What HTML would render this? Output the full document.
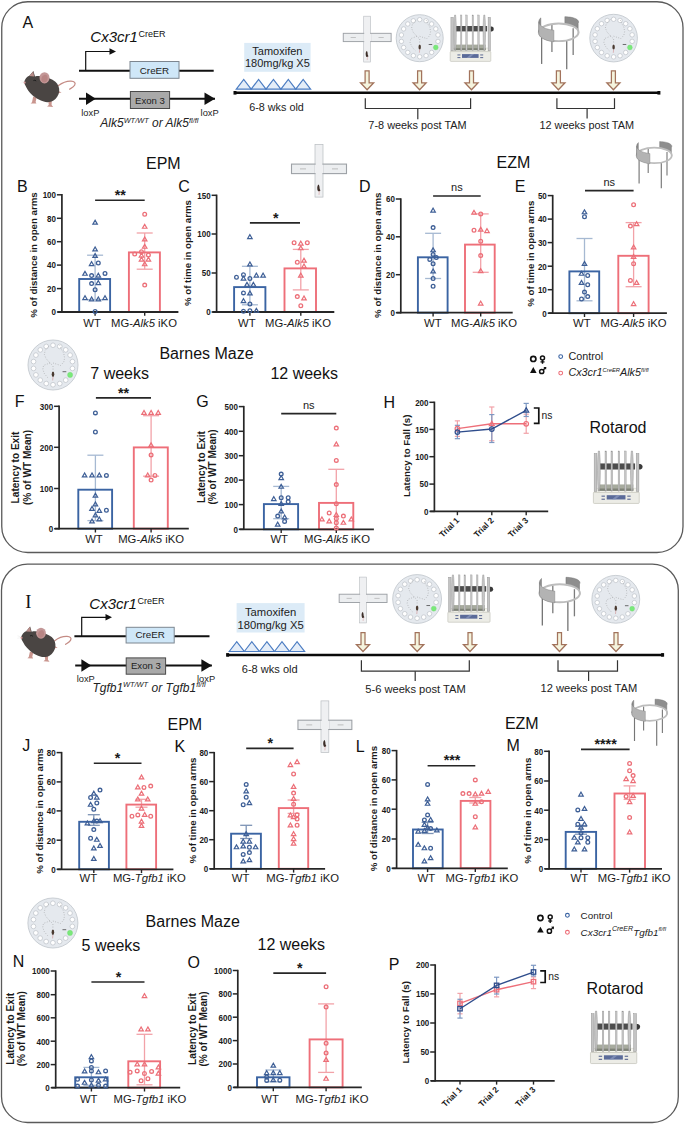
<!DOCTYPE html><html><head><meta charset="utf-8"><style>html,body{margin:0;padding:0;background:#fff;}svg{display:block;}text{font-family:"Liberation Sans",sans-serif;}</style></head><body>
<svg width="685" height="1124" viewBox="0 0 685 1124">
<rect width="685" height="1124" fill="#ffffff"/>
<rect x="1.75" y="1.75" width="681.25" height="550.75" rx="26" ry="26" fill="none" stroke="#5a5a5a" stroke-width="1.3"/>
<rect x="1.5" y="564.2" width="676.8" height="558.3" rx="26" ry="26" fill="none" stroke="#5a5a5a" stroke-width="1.3"/>
<text x="22.6" y="28.2" font-size="16" text-anchor="start" font-weight="normal" font-style="normal" fill="#111" >A</text>
<g transform="translate(0,0) scale(1)">
<path d="M58.5,85.6 C62,83 67,81 71,81.2 C74.5,81.4 76,82.8 74.6,85.2 C73.4,87.2 71.2,88.2 69.6,89.2" fill="none" stroke="#c48b84" stroke-width="1.25" stroke-linecap="round"/>
<path d="M33.2,96.5 L32.0,102.2 L30.6,103.4 L36.4,103.6 L35.6,102.0 L36.6,97.5 z" fill="#c9958e"/>
<path d="M48.2,100.5 L48.8,105.0 L47.0,106.6 L53.2,106.9 L51.6,105.0 L51.8,100.0 z" fill="#c9958e"/>
<path d="M57.5,90.5 L61.5,92.6 L57.5,93.4 z" fill="#c9958e"/>
<path d="M24.1,82.3 C24.8,79.2 27.0,76.6 29.6,75.6 L33.4,70.9 L35.0,76.4 C37.5,75.6 40.5,75.8 42.5,76.6 C46.5,77.2 52.0,79.0 55.4,81.8 C58.2,84.3 59.6,88.0 59.2,91.4 C58.8,95.2 56.2,98.8 53.5,100.6 C50.8,102.2 46.8,102.6 43.8,101.6 C40.8,100.6 37.8,99.4 35.4,97.6 C31.8,95.0 28.0,91.0 26.4,87.4 C25.4,85.6 24.4,84.0 24.1,82.3 z" fill="#4a4543"/>
<path d="M29.2,76.0 L33.2,71.4 L34.2,76.4 z" fill="#b98c88"/>
<ellipse cx="44.5" cy="77.8" rx="5.0" ry="5.6" fill="#c39797"/>
<path d="M41.5,80.5 C41.0,77.0 43.0,74.5 46.0,74.8 C47.8,75.5 48.2,78.5 47.0,81.0 C45.5,83.0 42.5,83.0 41.5,80.5 z" fill="#b88584"/>
<circle cx="24.6" cy="82.6" r="1.1" fill="#d69c9c"/>
<path d="M33.4,80.6 q1.6,-1.0 2.8,0.4" stroke="#1e1e1e" stroke-width="1.0" fill="none"/>
<path d="M23.5,81.5 l-3,-1 M23.5,82.5 l-3,0.5" stroke="#d8d8d8" stroke-width="0.3"/>
</g>
<text x="90.3" y="41.8" font-size="15" font-style="italic" fill="#111">Cx3cr1<tspan font-size="9" font-style="normal" dy="-5.2" dx="0.6">CreER</tspan></text>
<path d="M85.7,70.7 V51.5 H110.5" fill="none" stroke="#111" stroke-width="1.2"/>
<polygon points="109.5,48.3 116,51.5 109.5,54.7" fill="#111"/>
<line x1="79" y1="70.7" x2="213.7" y2="70.7" stroke="#111" stroke-width="1.9" />
<rect x="130" y="61.5" width="49" height="16.8" fill="#cfe7f8" stroke="#7d8690" stroke-width="1"/>
<text x="154.5" y="73.7" font-size="9.8" text-anchor="middle" font-weight="normal" font-style="normal" fill="#222" >CreER</text>
<line x1="79" y1="98.8" x2="215" y2="98.8" stroke="#111" stroke-width="1.9" />
<polygon points="86,92.6 95.8,98.8 86,105" fill="#111"/>
<polygon points="204.5,92.6 215,98.8 204.5,105" fill="#111"/>
<rect x="130.4" y="91.5" width="39.2" height="17" fill="#a9a9a9" stroke="#4a4a4a" stroke-width="1"/>
<text x="150" y="103.7" font-size="9.6" text-anchor="middle" font-weight="normal" font-style="normal" fill="#222" >Exon 3</text>
<text x="81.3" y="115.5" font-size="9.3" text-anchor="start" font-weight="normal" font-style="normal" fill="#222" >loxP</text>
<text x="200.6" y="115.5" font-size="9.3" text-anchor="start" font-weight="normal" font-style="normal" fill="#222" >loxP</text>
<text x="100.3" y="127.3" font-size="12" font-style="italic" fill="#222">Alk5<tspan font-size="7.4" dy="-4.6">WT/WT</tspan><tspan dy="4.6"> or Alk5</tspan><tspan font-size="7.4" dy="-4.6">fl/fl</tspan></text>
<rect x="244.2" y="42.9" width="66.4" height="28.9" fill="#dcebf7"/>
<text x="277.4" y="54.7" font-size="11" text-anchor="middle" font-weight="normal" font-style="normal" fill="#222" >Tamoxifen</text>
<text x="277.4" y="67.3" font-size="11" text-anchor="middle" font-weight="normal" font-style="normal" fill="#222" >180mg/kg X5</text>
<polygon points="236.3,89.1 243.73,79.4 251.16,89.1" fill="#e4edf8" stroke="#4b7cc2" stroke-width="1.2" stroke-linejoin="miter"/>
<polygon points="251.16,89.1 258.59,79.4 266.02,89.1" fill="#e4edf8" stroke="#4b7cc2" stroke-width="1.2" stroke-linejoin="miter"/>
<polygon points="266.02,89.1 273.45,79.4 280.88,89.1" fill="#e4edf8" stroke="#4b7cc2" stroke-width="1.2" stroke-linejoin="miter"/>
<polygon points="280.88,89.1 288.31,79.4 295.74,89.1" fill="#e4edf8" stroke="#4b7cc2" stroke-width="1.2" stroke-linejoin="miter"/>
<polygon points="295.74,89.1 303.17,79.4 310.6,89.1" fill="#e4edf8" stroke="#4b7cc2" stroke-width="1.2" stroke-linejoin="miter"/>
<line x1="234.5" y1="92.8" x2="659.4" y2="92.8" stroke="#0a0a0a" stroke-width="2.5" />
<rect x="233.5" y="91" width="3" height="3.6" fill="#0a0a0a"/>
<rect x="657.4" y="91" width="3" height="3.6" fill="#0a0a0a"/>
<text x="249.2" y="110.6" font-size="10.8" text-anchor="start" font-weight="normal" font-style="normal" fill="#222" >6-8 wks old</text>
<path d="M365.1,70.8 H369.1 V82.8 H373.7 L367.1,89.8 L360.5,82.8 H365.1 Z" fill="#f5f4de" stroke="#a2735c" stroke-width="1.25" stroke-linejoin="miter"/>
<path d="M417.6,70.8 H421.6 V82.8 H426.2 L419.6,89.8 L413,82.8 H417.6 Z" fill="#f5f4de" stroke="#a2735c" stroke-width="1.25" stroke-linejoin="miter"/>
<path d="M469.5,70.8 H473.5 V82.8 H478.1 L471.5,89.8 L464.9,82.8 H469.5 Z" fill="#f5f4de" stroke="#a2735c" stroke-width="1.25" stroke-linejoin="miter"/>
<path d="M556.4,70.8 H560.4 V82.8 H565 L558.4,89.8 L551.8,82.8 H556.4 Z" fill="#f5f4de" stroke="#a2735c" stroke-width="1.25" stroke-linejoin="miter"/>
<path d="M611.4,70.8 H615.4 V82.8 H620 L613.4,89.8 L606.8,82.8 H611.4 Z" fill="#f5f4de" stroke="#a2735c" stroke-width="1.25" stroke-linejoin="miter"/>
<path d="M365.3,98.3 V108.5 H470.6 V98.3" fill="none" stroke="#333" stroke-width="1.2"/>
<line x1="417.8" y1="108.5" x2="417.8" y2="119.3" stroke="#333" stroke-width="1.2" />
<text x="417.5" y="129.2" font-size="10.9" text-anchor="middle" font-weight="normal" font-style="normal" fill="#222" >7-8 weeks post TAM</text>
<path d="M556.9,98.3 V108.5 H614.5 V98.3" fill="none" stroke="#333" stroke-width="1.2"/>
<line x1="587.1" y1="108.5" x2="587.1" y2="118.5" stroke="#333" stroke-width="1.2" />
<text x="586.7" y="129.2" font-size="10.9" text-anchor="middle" font-weight="normal" font-style="normal" fill="#222" >12 weeks post TAM</text>
<g transform="translate(367.2,37.5) scale(0.87)">
<rect x="-4" y="-24.5" width="8" height="52.7" fill="#eff0f2" stroke="#b8bcc0" stroke-width="0.7"/>
<rect x="-27.5" y="-4.8" width="23.5" height="9.5" fill="#eceef0" stroke="#9da1a6" stroke-width="1.1"/>
<rect x="4" y="-4.8" width="23.5" height="9.5" fill="#eceef0" stroke="#9da1a6" stroke-width="1.1"/>
<rect x="-4.6" y="-4.2" width="9.2" height="8.4" fill="#eff0f2"/>
<line x1="-19" y1="0" x2="-13" y2="0" stroke="#9a9a9a" stroke-width="0.6" />
<line x1="13" y1="0" x2="19" y2="0" stroke="#9a9a9a" stroke-width="0.6" />
<path d="M-0.6,15.5 c-1.4,1.2 -1.5,4.6 -0.5,6.6 c0.9,0.7 2.3,0.3 2.5,-0.7 c-0.6,-1.1 -0.9,-1.7 -0.9,-3.3 c-0.2,-1.7 -0.6,-2.6 -1.1,-2.6 z" fill="#3d2e28"/>
<line x1="0.3" y1="22" x2="0" y2="26" stroke="#c87070" stroke-width="0.4" />
</g>
<g>
<circle cx="419.7" cy="38.2" r="23.5" stroke="#c4c9cf" fill="#e5e9ee" stroke-width="0.9"/>
<circle cx="419.7" cy="56.77" r="2.2" stroke="#aeb4bb" fill="#ffffff" stroke-width="0.55"/>
<circle cx="426.05" cy="55.65" r="2.2" stroke="#aeb4bb" fill="#ffffff" stroke-width="0.55"/>
<circle cx="431.63" cy="52.42" r="2.2" stroke="#aeb4bb" fill="#ffffff" stroke-width="0.55"/>
<circle cx="437.98" cy="41.42" r="2.2" stroke="#aeb4bb" fill="#ffffff" stroke-width="0.55"/>
<circle cx="437.98" cy="34.98" r="2.2" stroke="#aeb4bb" fill="#ffffff" stroke-width="0.55"/>
<circle cx="435.78" cy="28.92" r="2.2" stroke="#aeb4bb" fill="#ffffff" stroke-width="0.55"/>
<circle cx="431.63" cy="23.98" r="2.2" stroke="#aeb4bb" fill="#ffffff" stroke-width="0.55"/>
<circle cx="426.05" cy="20.75" r="2.2" stroke="#aeb4bb" fill="#ffffff" stroke-width="0.55"/>
<circle cx="419.7" cy="19.64" r="2.2" stroke="#aeb4bb" fill="#ffffff" stroke-width="0.55"/>
<circle cx="413.35" cy="20.75" r="2.2" stroke="#aeb4bb" fill="#ffffff" stroke-width="0.55"/>
<circle cx="407.77" cy="23.98" r="2.2" stroke="#aeb4bb" fill="#ffffff" stroke-width="0.55"/>
<circle cx="403.62" cy="28.92" r="2.2" stroke="#aeb4bb" fill="#ffffff" stroke-width="0.55"/>
<circle cx="401.42" cy="34.98" r="2.2" stroke="#aeb4bb" fill="#ffffff" stroke-width="0.55"/>
<circle cx="401.42" cy="41.42" r="2.2" stroke="#aeb4bb" fill="#ffffff" stroke-width="0.55"/>
<circle cx="403.62" cy="47.48" r="2.2" stroke="#aeb4bb" fill="#ffffff" stroke-width="0.55"/>
<circle cx="407.77" cy="52.42" r="2.2" stroke="#aeb4bb" fill="#ffffff" stroke-width="0.55"/>
<circle cx="413.35" cy="55.65" r="2.2" stroke="#aeb4bb" fill="#ffffff" stroke-width="0.55"/>
<circle cx="435.78" cy="47.48" r="2.4" stroke="#6fd86f" fill="#7ae97a" stroke-width="0.4"/>
<line x1="428.7" y1="44.5" x2="432.2" y2="44.5" stroke="#333" stroke-width="0.7" />
<polyline points="419.7,42.4 419.7,39 416.9,36.3 413.1,32.1 411.6,28.3 412.3,24.5 415,21.1 416.9,19.6" fill="none" stroke="#707070" stroke-width="0.45" stroke-dasharray="0.8,1.7" stroke-linejoin="round"/>
<polyline points="419.7,36.3 423,37.4 426.8,38.6 429.8,35.5 430.6,31.7 429.8,27.2 427.5,23.4 426,19.6" fill="none" stroke="#707070" stroke-width="0.45" stroke-dasharray="0.8,1.7" stroke-linejoin="round"/>
<polyline points="416.9,36.3 410.8,38.6 410.1,42.4 411.6,46.2 413.9,49.2 415.4,50.7" fill="none" stroke="#707070" stroke-width="0.45" stroke-dasharray="0.8,1.7" stroke-linejoin="round"/>
<ellipse cx="419.7" cy="46.9" rx="1.2" ry="2.5" fill="#4a3a30"/>
<line x1="419.7" y1="49.4" x2="419.4" y2="52.7" stroke="#c46060" stroke-width="0.4" />
</g>
<g transform="translate(449.6,15) scale(1,1)">
<path d="M0.8,36.8 L3.6,33.0 L38.5,33.0 L41.2,36.8 z" fill="#f6f6f0" stroke="#c8c8be" stroke-width="0.4"/>
<rect x="4.8" y="29.6" width="31.2" height="5.6" fill="#a7ab9e"/>
<rect x="4.8" y="33.2" width="31.2" height="2.0" fill="#7f8378"/>
<rect x="5.5" y="11.0" width="32.0" height="5.4" fill="#4d4d4d"/>
<path d="M41.0,11.5 h1.2 a2.5,2.5 0 0 1 0,4.9 h-1.2 z" fill="#3a3a3a"/>
<rect x="1.3" y="2.3" width="2.4" height="33.5" fill="#c4c4c4" stroke="#8e8e8e" stroke-width="0.4"/>
<rect x="38.5" y="2.3" width="2.4" height="33.5" fill="#c4c4c4" stroke="#8e8e8e" stroke-width="0.4"/>
<path d="M5,0 C4,8 4,26 5,35.5 L6,35.5 C7,26 7,8 6,0 z" fill="#c6c6c6" stroke="#8a8a8a" stroke-width="0.4"/>
<path d="M34.2,0 C33.2,8 33.2,26 34.2,35.5 L35.2,35.5 C36.2,26 36.2,8 35.2,0 z" fill="#c6c6c6" stroke="#8a8a8a" stroke-width="0.4"/>
<rect x="10.9" y="0" width="1.4" height="35.5" fill="#c8c8c8" stroke="#909090" stroke-width="0.35"/>
<rect x="16.2" y="0" width="1.4" height="35.5" fill="#c8c8c8" stroke="#909090" stroke-width="0.35"/>
<rect x="22.5" y="0" width="1.4" height="35.5" fill="#c8c8c8" stroke="#909090" stroke-width="0.35"/>
<rect x="28.2" y="0" width="1.4" height="35.5" fill="#c8c8c8" stroke="#909090" stroke-width="0.35"/>
<rect x="0.6" y="36.6" width="40.6" height="9.8" rx="0.8" fill="#ececE6" stroke="#c0c0b6" stroke-width="0.6"/>
<rect x="12.4" y="39.1" width="16.6" height="3.8" fill="#5b6b99"/>
<path d="M17,42.9 L21.5,39.1 L24.5,39.1 L20,42.9 z" fill="#8c9ac0" opacity="0.7"/>
<rect x="7.8" y="39.5" width="3.0" height="0.9" fill="#4c5a88"/>
<rect x="30.6" y="39.5" width="3.0" height="0.9" fill="#4c5a88"/>
<rect x="7.8" y="42.2" width="3.0" height="0.9" fill="#4c5a88"/>
<rect x="30.6" y="42.2" width="3.0" height="0.9" fill="#4c5a88"/>
</g>
<g transform="translate(558.7,32.3) scale(1.13)">
<line x1="-6" y1="-6.6" x2="-6" y2="17.5" stroke="#7c7c7c" stroke-width="1.15" />
<line x1="12.8" y1="-3.5" x2="12.8" y2="20.1" stroke="#7c7c7c" stroke-width="1.15" />
<polygon points="5.44,-7.42 6.95,-7.17 8.4,-6.85 9.78,-6.49 11.08,-6.06 12.28,-5.59 13.38,-5.07 14.37,-4.5 15.24,-3.9 15.98,-3.27 16.59,-2.6 17.06,-1.92 17.38,-1.22 17.56,-0.51 17.59,0.2 17.48,0.92 17.22,1.62 17.22,-7.98 17.48,-8.48 17.59,-9 17.56,-9.51 17.38,-10.02 17.06,-10.52 16.59,-11 15.98,-11.47 15.24,-11.9 14.37,-12.3 13.38,-12.67 12.28,-12.99 11.08,-13.26 9.78,-13.49 8.4,-13.65 6.95,-13.77 5.44,-13.82" fill="#8e8e8e" stroke="#6e6e6e" stroke-width="0.4"/>
<ellipse cx="0" cy="0" rx="17.6" ry="7.8" fill="none" stroke="#bdbdbd" stroke-width="1.7"/>
<line x1="-15.1" y1="4.4" x2="-15.1" y2="28" stroke="#767676" stroke-width="1.15" />
<line x1="7.1" y1="7.9" x2="7.1" y2="32.8" stroke="#767676" stroke-width="1.15" />
<polygon points="-17.6,0 -17.57,-0.44 -17.49,-0.88 -17.35,-1.32 -17.15,-1.75 -16.9,-2.18 -16.59,-2.6 -16.23,-3.02 -15.82,-3.42 -15.82,-12.82 -16.23,-12.42 -16.59,-12 -16.9,-11.58 -17.15,-11.15 -17.35,-10.72 -17.49,-10.28 -17.57,-9.84 -17.6,-9.4" fill="#8c8c8c" stroke="#707070" stroke-width="0.4"/>
<polygon points="-4.26,8.37 -5.66,8.19 -7.02,7.95 -8.33,7.67 -9.59,7.34 -10.78,6.97 -11.89,6.55 -12.92,6.09 -13.87,5.6 -14.72,5.08 -15.47,4.52 -16.11,3.94 -16.64,3.34 -17.06,2.72 -17.36,2.09 -17.54,1.45 -17.6,0.8 -17.6,-9.4 -17.54,-8.75 -17.36,-8.11 -17.06,-7.48 -16.64,-6.86 -16.11,-6.26 -15.47,-5.68 -14.72,-5.12 -13.87,-4.6 -12.92,-4.11 -11.89,-3.65 -10.78,-3.23 -9.59,-2.86 -8.33,-2.53 -7.02,-2.25 -5.66,-2.01 -4.26,-1.83" fill="#b3b3b3" stroke="#7e7e7e" stroke-width="0.4"/>
</g>
<g>
<circle cx="613.6" cy="38.1" r="23.8" stroke="#c4c9cf" fill="#e5e9ee" stroke-width="0.9"/>
<circle cx="613.6" cy="56.9" r="2.23" stroke="#aeb4bb" fill="#ffffff" stroke-width="0.55"/>
<circle cx="620.03" cy="55.77" r="2.23" stroke="#aeb4bb" fill="#ffffff" stroke-width="0.55"/>
<circle cx="625.69" cy="52.5" r="2.23" stroke="#aeb4bb" fill="#ffffff" stroke-width="0.55"/>
<circle cx="632.12" cy="41.36" r="2.23" stroke="#aeb4bb" fill="#ffffff" stroke-width="0.55"/>
<circle cx="632.12" cy="34.84" r="2.23" stroke="#aeb4bb" fill="#ffffff" stroke-width="0.55"/>
<circle cx="629.88" cy="28.7" r="2.23" stroke="#aeb4bb" fill="#ffffff" stroke-width="0.55"/>
<circle cx="625.69" cy="23.7" r="2.23" stroke="#aeb4bb" fill="#ffffff" stroke-width="0.55"/>
<circle cx="620.03" cy="20.43" r="2.23" stroke="#aeb4bb" fill="#ffffff" stroke-width="0.55"/>
<circle cx="613.6" cy="19.3" r="2.23" stroke="#aeb4bb" fill="#ffffff" stroke-width="0.55"/>
<circle cx="607.17" cy="20.43" r="2.23" stroke="#aeb4bb" fill="#ffffff" stroke-width="0.55"/>
<circle cx="601.51" cy="23.7" r="2.23" stroke="#aeb4bb" fill="#ffffff" stroke-width="0.55"/>
<circle cx="597.32" cy="28.7" r="2.23" stroke="#aeb4bb" fill="#ffffff" stroke-width="0.55"/>
<circle cx="595.08" cy="34.84" r="2.23" stroke="#aeb4bb" fill="#ffffff" stroke-width="0.55"/>
<circle cx="595.08" cy="41.36" r="2.23" stroke="#aeb4bb" fill="#ffffff" stroke-width="0.55"/>
<circle cx="597.32" cy="47.5" r="2.23" stroke="#aeb4bb" fill="#ffffff" stroke-width="0.55"/>
<circle cx="601.51" cy="52.5" r="2.23" stroke="#aeb4bb" fill="#ffffff" stroke-width="0.55"/>
<circle cx="607.17" cy="55.77" r="2.23" stroke="#aeb4bb" fill="#ffffff" stroke-width="0.55"/>
<circle cx="629.88" cy="47.5" r="2.43" stroke="#6fd86f" fill="#7ae97a" stroke-width="0.4"/>
<line x1="622.71" y1="44.48" x2="626.26" y2="44.48" stroke="#333" stroke-width="0.7" />
<polyline points="613.6,42.35 613.6,38.91 610.76,36.18 606.92,31.92 605.4,28.07 606.11,24.23 608.84,20.78 610.76,19.26" fill="none" stroke="#707070" stroke-width="0.45" stroke-dasharray="0.8,1.7" stroke-linejoin="round"/>
<polyline points="613.6,36.18 616.94,37.29 620.79,38.51 623.83,35.37 624.64,31.52 623.83,26.96 621.5,23.11 619.98,19.26" fill="none" stroke="#707070" stroke-width="0.45" stroke-dasharray="0.8,1.7" stroke-linejoin="round"/>
<polyline points="610.76,36.18 604.59,38.51 603.88,42.35 605.4,46.2 607.73,49.24 609.25,50.76" fill="none" stroke="#707070" stroke-width="0.45" stroke-dasharray="0.8,1.7" stroke-linejoin="round"/>
<ellipse cx="613.6" cy="46.91" rx="1.22" ry="2.53" fill="#4a3a30"/>
<line x1="613.6" y1="49.44" x2="613.3" y2="52.79" stroke="#c46060" stroke-width="0.4" />
</g>
<text x="146" y="168.6" font-size="16" text-anchor="start" font-weight="normal" font-style="normal" fill="#111" >EPM</text>
<text x="496.5" y="168.3" font-size="16" text-anchor="start" font-weight="normal" font-style="normal" fill="#111" >EZM</text>
<g transform="translate(319,168.9) scale(1)">
<rect x="-4" y="-24.5" width="8" height="52.7" fill="#eff0f2" stroke="#b8bcc0" stroke-width="0.7"/>
<rect x="-27.5" y="-4.8" width="23.5" height="9.5" fill="#eceef0" stroke="#9da1a6" stroke-width="1.1"/>
<rect x="4" y="-4.8" width="23.5" height="9.5" fill="#eceef0" stroke="#9da1a6" stroke-width="1.1"/>
<rect x="-4.6" y="-4.2" width="9.2" height="8.4" fill="#eff0f2"/>
<line x1="-19" y1="0" x2="-13" y2="0" stroke="#9a9a9a" stroke-width="0.6" />
<line x1="13" y1="0" x2="19" y2="0" stroke="#9a9a9a" stroke-width="0.6" />
<path d="M-0.6,15.5 c-1.4,1.2 -1.5,4.6 -0.5,6.6 c0.9,0.7 2.3,0.3 2.5,-0.7 c-0.6,-1.1 -0.9,-1.7 -0.9,-3.3 c-0.2,-1.7 -0.6,-2.6 -1.1,-2.6 z" fill="#3d2e28"/>
<line x1="0.3" y1="22" x2="0" y2="26" stroke="#c87070" stroke-width="0.4" />
</g>
<g transform="translate(654.2,155.4) scale(1)">
<line x1="-6" y1="-6.6" x2="-6" y2="17.5" stroke="#7c7c7c" stroke-width="1.15" />
<line x1="12.8" y1="-3.5" x2="12.8" y2="20.1" stroke="#7c7c7c" stroke-width="1.15" />
<polygon points="5.44,-7.42 6.95,-7.17 8.4,-6.85 9.78,-6.49 11.08,-6.06 12.28,-5.59 13.38,-5.07 14.37,-4.5 15.24,-3.9 15.98,-3.27 16.59,-2.6 17.06,-1.92 17.38,-1.22 17.56,-0.51 17.59,0.2 17.48,0.92 17.22,1.62 17.22,-7.98 17.48,-8.48 17.59,-9 17.56,-9.51 17.38,-10.02 17.06,-10.52 16.59,-11 15.98,-11.47 15.24,-11.9 14.37,-12.3 13.38,-12.67 12.28,-12.99 11.08,-13.26 9.78,-13.49 8.4,-13.65 6.95,-13.77 5.44,-13.82" fill="#8e8e8e" stroke="#6e6e6e" stroke-width="0.4"/>
<ellipse cx="0" cy="0" rx="17.6" ry="7.8" fill="none" stroke="#bdbdbd" stroke-width="1.7"/>
<line x1="-15.1" y1="4.4" x2="-15.1" y2="28" stroke="#767676" stroke-width="1.15" />
<line x1="7.1" y1="7.9" x2="7.1" y2="32.8" stroke="#767676" stroke-width="1.15" />
<polygon points="-17.6,0 -17.57,-0.44 -17.49,-0.88 -17.35,-1.32 -17.15,-1.75 -16.9,-2.18 -16.59,-2.6 -16.23,-3.02 -15.82,-3.42 -15.82,-12.82 -16.23,-12.42 -16.59,-12 -16.9,-11.58 -17.15,-11.15 -17.35,-10.72 -17.49,-10.28 -17.57,-9.84 -17.6,-9.4" fill="#8c8c8c" stroke="#707070" stroke-width="0.4"/>
<polygon points="-4.26,8.37 -5.66,8.19 -7.02,7.95 -8.33,7.67 -9.59,7.34 -10.78,6.97 -11.89,6.55 -12.92,6.09 -13.87,5.6 -14.72,5.08 -15.47,4.52 -16.11,3.94 -16.64,3.34 -17.06,2.72 -17.36,2.09 -17.54,1.45 -17.6,0.8 -17.6,-9.4 -17.54,-8.75 -17.36,-8.11 -17.06,-7.48 -16.64,-6.86 -16.11,-6.26 -15.47,-5.68 -14.72,-5.12 -13.87,-4.6 -12.92,-4.11 -11.89,-3.65 -10.78,-3.23 -9.59,-2.86 -8.33,-2.53 -7.02,-2.25 -5.66,-2.01 -4.26,-1.83" fill="#b3b3b3" stroke="#7e7e7e" stroke-width="0.4"/>
</g>
<line x1="95.1" y1="255.2" x2="95.1" y2="299.7" stroke="#a6b9d2" stroke-width="1.3" />
<line x1="87.1" y1="255.2" x2="103.1" y2="255.2" stroke="#a6b9d2" stroke-width="1.3" />
<line x1="87.1" y1="299.7" x2="103.1" y2="299.7" stroke="#a6b9d2" stroke-width="1.3" />
<line x1="144.7" y1="233" x2="144.7" y2="269.2" stroke="#f2a2a8" stroke-width="1.3" />
<line x1="136.7" y1="233" x2="152.7" y2="233" stroke="#f2a2a8" stroke-width="1.3" />
<line x1="136.7" y1="269.2" x2="152.7" y2="269.2" stroke="#f2a2a8" stroke-width="1.3" />
<rect x="79.2" y="279" width="30.9" height="33" fill="none" stroke="#3b64a3" stroke-width="1.9"/>
<rect x="128.9" y="252.4" width="31" height="59.6" fill="none" stroke="#ee6f79" stroke-width="1.9"/>
<line x1="61.9" y1="194.1" x2="61.9" y2="312.7" stroke="#262626" stroke-width="1.7" />
<line x1="57.7" y1="312" x2="178.4" y2="312" stroke="#262626" stroke-width="1.8" />
<line x1="56.9" y1="194.8" x2="61.9" y2="194.8" stroke="#262626" stroke-width="1.5" />
<text transform="translate(56,198.11) scale(0.87,1)" font-size="9.2" font-weight="bold" text-anchor="end" fill="#1a1a1a">100</text>
<line x1="56.9" y1="218.3" x2="61.9" y2="218.3" stroke="#262626" stroke-width="1.5" />
<text transform="translate(56,221.61) scale(0.87,1)" font-size="9.2" font-weight="bold" text-anchor="end" fill="#1a1a1a">80</text>
<line x1="56.9" y1="241.7" x2="61.9" y2="241.7" stroke="#262626" stroke-width="1.5" />
<text transform="translate(56,245.01) scale(0.87,1)" font-size="9.2" font-weight="bold" text-anchor="end" fill="#1a1a1a">60</text>
<line x1="56.9" y1="265.1" x2="61.9" y2="265.1" stroke="#262626" stroke-width="1.5" />
<text transform="translate(56,268.41) scale(0.87,1)" font-size="9.2" font-weight="bold" text-anchor="end" fill="#1a1a1a">40</text>
<line x1="56.9" y1="288.6" x2="61.9" y2="288.6" stroke="#262626" stroke-width="1.5" />
<text transform="translate(56,291.91) scale(0.87,1)" font-size="9.2" font-weight="bold" text-anchor="end" fill="#1a1a1a">20</text>
<line x1="56.9" y1="312" x2="61.9" y2="312" stroke="#262626" stroke-width="1.5" />
<text transform="translate(56,315.31) scale(0.87,1)" font-size="9.2" font-weight="bold" text-anchor="end" fill="#1a1a1a">0</text>
<line x1="95.1" y1="312" x2="95.1" y2="315.8" stroke="#262626" stroke-width="1.4" />
<line x1="144.7" y1="312" x2="144.7" y2="315.8" stroke="#262626" stroke-width="1.4" />
<polygon points="95.1,220.25 92.85,224.17 97.35,224.17" stroke="#3e5f96" fill="none" stroke-width="1.2" stroke-linejoin="miter"/>
<polygon points="95.1,246.95 92.85,250.87 97.35,250.87" stroke="#3e5f96" fill="none" stroke-width="1.2" stroke-linejoin="miter"/>
<polygon points="95.1,253.55 92.85,257.47 97.35,257.47" stroke="#3e5f96" fill="none" stroke-width="1.2" stroke-linejoin="miter"/>
<polygon points="91.6,261.65 89.35,265.57 93.85,265.57" stroke="#3e5f96" fill="none" stroke-width="1.2" stroke-linejoin="miter"/>
<circle cx="98.3" cy="263" r="1.85" stroke="#3e5f96" fill="none" stroke-width="1.3"/>
<polygon points="85,271.35 82.75,275.27 87.25,275.27" stroke="#3e5f96" fill="none" stroke-width="1.2" stroke-linejoin="miter"/>
<circle cx="91.6" cy="275.6" r="1.85" stroke="#3e5f96" fill="none" stroke-width="1.3"/>
<polygon points="98.3,273.25 96.05,277.17 100.55,277.17" stroke="#3e5f96" fill="none" stroke-width="1.2" stroke-linejoin="miter"/>
<circle cx="105" cy="273.4" r="1.85" stroke="#3e5f96" fill="none" stroke-width="1.3"/>
<circle cx="91.6" cy="283.6" r="1.85" stroke="#3e5f96" fill="none" stroke-width="1.3"/>
<polygon points="98.3,280.65 96.05,284.57 100.55,284.57" stroke="#3e5f96" fill="none" stroke-width="1.2" stroke-linejoin="miter"/>
<circle cx="95.1" cy="289.8" r="1.85" stroke="#3e5f96" fill="none" stroke-width="1.3"/>
<polygon points="85,295.75 82.75,299.67 87.25,299.67" stroke="#3e5f96" fill="none" stroke-width="1.2" stroke-linejoin="miter"/>
<polygon points="91.6,296.95 89.35,300.87 93.85,300.87" stroke="#3e5f96" fill="none" stroke-width="1.2" stroke-linejoin="miter"/>
<polygon points="98.3,296.95 96.05,300.87 100.55,300.87" stroke="#3e5f96" fill="none" stroke-width="1.2" stroke-linejoin="miter"/>
<polygon points="105,295.75 102.75,299.67 107.25,299.67" stroke="#3e5f96" fill="none" stroke-width="1.2" stroke-linejoin="miter"/>
<circle cx="95.1" cy="311.5" r="1.85" stroke="#3e5f96" fill="none" stroke-width="1.3"/>
<circle cx="144.7" cy="214.2" r="1.85" stroke="#ec6f78" fill="none" stroke-width="1.3"/>
<polygon points="144.7,224.35 142.45,228.27 146.95,228.27" stroke="#ec6f78" fill="none" stroke-width="1.2" stroke-linejoin="miter"/>
<polygon points="144.7,237.05 142.45,240.97 146.95,240.97" stroke="#ec6f78" fill="none" stroke-width="1.2" stroke-linejoin="miter"/>
<polygon points="144.7,244.35 142.45,248.27 146.95,248.27" stroke="#ec6f78" fill="none" stroke-width="1.2" stroke-linejoin="miter"/>
<circle cx="134.7" cy="254" r="1.85" stroke="#ec6f78" fill="none" stroke-width="1.3"/>
<circle cx="141.5" cy="251.8" r="1.85" stroke="#ec6f78" fill="none" stroke-width="1.3"/>
<polygon points="141.5,253.15 139.25,257.07 143.75,257.07" stroke="#ec6f78" fill="none" stroke-width="1.2" stroke-linejoin="miter"/>
<circle cx="148.4" cy="255" r="1.85" stroke="#ec6f78" fill="none" stroke-width="1.3"/>
<polygon points="141.5,257.25 139.25,261.17 143.75,261.17" stroke="#ec6f78" fill="none" stroke-width="1.2" stroke-linejoin="miter"/>
<polygon points="148.4,257.25 146.15,261.17 150.65,261.17" stroke="#ec6f78" fill="none" stroke-width="1.2" stroke-linejoin="miter"/>
<polygon points="144.7,261.85 142.45,265.77 146.95,265.77" stroke="#ec6f78" fill="none" stroke-width="1.2" stroke-linejoin="miter"/>
<circle cx="144.7" cy="285.1" r="1.85" stroke="#ec6f78" fill="none" stroke-width="1.3"/>
<line x1="95.1" y1="200.3" x2="144.7" y2="200.3" stroke="#262626" stroke-width="1.6" />
<text x="120.3" y="199.9" font-size="14.3" text-anchor="middle" font-weight="bold" font-style="normal" fill="#1a1a1a" >**</text>
<text x="83.3" y="326.6" font-size="11.3" text-anchor="start" font-weight="normal" font-style="normal" fill="#1a1a1a" >WT</text>
<text x="111" y="326.6" font-size="11.3" fill="#1a1a1a">MG-<tspan font-style="italic">Alk5</tspan> iKO</text>
<text transform="translate(36.6,255) scale(0.87,1) rotate(-90)" font-size="9.7" font-weight="bold" text-anchor="middle" fill="#1a1a1a">% of distance in open arms</text>
<text x="17" y="191.8" font-size="16" text-anchor="start" font-weight="normal" font-style="normal" fill="#111" >B</text>
<line x1="249.9" y1="266.3" x2="249.9" y2="304.8" stroke="#a6b9d2" stroke-width="1.3" />
<line x1="241.9" y1="266.3" x2="257.9" y2="266.3" stroke="#a6b9d2" stroke-width="1.3" />
<line x1="241.9" y1="304.8" x2="257.9" y2="304.8" stroke="#a6b9d2" stroke-width="1.3" />
<line x1="300.8" y1="249.4" x2="300.8" y2="289.9" stroke="#f2a2a8" stroke-width="1.3" />
<line x1="292.8" y1="249.4" x2="308.8" y2="249.4" stroke="#f2a2a8" stroke-width="1.3" />
<line x1="292.8" y1="289.9" x2="308.8" y2="289.9" stroke="#f2a2a8" stroke-width="1.3" />
<rect x="234.1" y="287.1" width="31.3" height="24.9" fill="none" stroke="#3b64a3" stroke-width="1.9"/>
<rect x="284.5" y="268.4" width="31.5" height="43.6" fill="none" stroke="#ee6f79" stroke-width="1.9"/>
<line x1="216.6" y1="194.6" x2="216.6" y2="312.7" stroke="#262626" stroke-width="1.7" />
<line x1="212.4" y1="312" x2="334.3" y2="312" stroke="#262626" stroke-width="1.8" />
<line x1="211.6" y1="195.3" x2="216.6" y2="195.3" stroke="#262626" stroke-width="1.5" />
<text transform="translate(210.7,198.61) scale(0.87,1)" font-size="9.2" font-weight="bold" text-anchor="end" fill="#1a1a1a">150</text>
<line x1="211.6" y1="234" x2="216.6" y2="234" stroke="#262626" stroke-width="1.5" />
<text transform="translate(210.7,237.31) scale(0.87,1)" font-size="9.2" font-weight="bold" text-anchor="end" fill="#1a1a1a">100</text>
<line x1="211.6" y1="273" x2="216.6" y2="273" stroke="#262626" stroke-width="1.5" />
<text transform="translate(210.7,276.31) scale(0.87,1)" font-size="9.2" font-weight="bold" text-anchor="end" fill="#1a1a1a">50</text>
<line x1="211.6" y1="312" x2="216.6" y2="312" stroke="#262626" stroke-width="1.5" />
<text transform="translate(210.7,315.31) scale(0.87,1)" font-size="9.2" font-weight="bold" text-anchor="end" fill="#1a1a1a">0</text>
<line x1="249.9" y1="312" x2="249.9" y2="315.8" stroke="#262626" stroke-width="1.4" />
<line x1="300.8" y1="312" x2="300.8" y2="315.8" stroke="#262626" stroke-width="1.4" />
<polygon points="249.9,234.65 247.65,238.57 252.15,238.57" stroke="#3e5f96" fill="none" stroke-width="1.2" stroke-linejoin="miter"/>
<polygon points="249.9,261.95 247.65,265.87 252.15,265.87" stroke="#3e5f96" fill="none" stroke-width="1.2" stroke-linejoin="miter"/>
<circle cx="236.5" cy="277.2" r="1.85" stroke="#3e5f96" fill="none" stroke-width="1.3"/>
<circle cx="243.5" cy="274.7" r="1.85" stroke="#3e5f96" fill="none" stroke-width="1.3"/>
<polygon points="243.5,276.15 241.25,280.07 245.75,280.07" stroke="#3e5f96" fill="none" stroke-width="1.2" stroke-linejoin="miter"/>
<circle cx="249.9" cy="278.5" r="1.85" stroke="#3e5f96" fill="none" stroke-width="1.3"/>
<polygon points="256.4,273.15 254.15,277.07 258.65,277.07" stroke="#3e5f96" fill="none" stroke-width="1.2" stroke-linejoin="miter"/>
<polygon points="263.1,273.15 260.85,277.07 265.35,277.07" stroke="#3e5f96" fill="none" stroke-width="1.2" stroke-linejoin="miter"/>
<polygon points="247,282.35 244.75,286.27 249.25,286.27" stroke="#3e5f96" fill="none" stroke-width="1.2" stroke-linejoin="miter"/>
<polygon points="253.4,282.35 251.15,286.27 255.65,286.27" stroke="#3e5f96" fill="none" stroke-width="1.2" stroke-linejoin="miter"/>
<circle cx="243.5" cy="292.9" r="1.85" stroke="#3e5f96" fill="none" stroke-width="1.3"/>
<polygon points="249.9,291.05 247.65,294.97 252.15,294.97" stroke="#3e5f96" fill="none" stroke-width="1.2" stroke-linejoin="miter"/>
<polygon points="243.5,298.65 241.25,302.57 245.75,302.57" stroke="#3e5f96" fill="none" stroke-width="1.2" stroke-linejoin="miter"/>
<circle cx="249.9" cy="304" r="1.85" stroke="#3e5f96" fill="none" stroke-width="1.3"/>
<circle cx="243.5" cy="311.3" r="1.85" stroke="#3e5f96" fill="none" stroke-width="1.3"/>
<circle cx="249.9" cy="310.7" r="1.85" stroke="#3e5f96" fill="none" stroke-width="1.3"/>
<polygon points="256.4,308.35 254.15,312.27 258.65,312.27" stroke="#3e5f96" fill="none" stroke-width="1.2" stroke-linejoin="miter"/>
<circle cx="294.1" cy="242.7" r="1.85" stroke="#ec6f78" fill="none" stroke-width="1.3"/>
<polygon points="300.8,241.15 298.55,245.07 303.05,245.07" stroke="#ec6f78" fill="none" stroke-width="1.2" stroke-linejoin="miter"/>
<circle cx="307.3" cy="242.7" r="1.85" stroke="#ec6f78" fill="none" stroke-width="1.3"/>
<polygon points="300.8,245.85 298.55,249.77 303.05,249.77" stroke="#ec6f78" fill="none" stroke-width="1.2" stroke-linejoin="miter"/>
<circle cx="297.3" cy="262.3" r="1.85" stroke="#ec6f78" fill="none" stroke-width="1.3"/>
<polygon points="304,258.25 301.75,262.17 306.25,262.17" stroke="#ec6f78" fill="none" stroke-width="1.2" stroke-linejoin="miter"/>
<polygon points="304,263.95 301.75,267.87 306.25,267.87" stroke="#ec6f78" fill="none" stroke-width="1.2" stroke-linejoin="miter"/>
<polygon points="300.8,273.15 298.55,277.07 303.05,277.07" stroke="#ec6f78" fill="none" stroke-width="1.2" stroke-linejoin="miter"/>
<circle cx="297.3" cy="296.6" r="1.85" stroke="#ec6f78" fill="none" stroke-width="1.3"/>
<polygon points="304,295.95 301.75,299.87 306.25,299.87" stroke="#ec6f78" fill="none" stroke-width="1.2" stroke-linejoin="miter"/>
<circle cx="300.8" cy="305.8" r="1.85" stroke="#ec6f78" fill="none" stroke-width="1.3"/>
<line x1="249.9" y1="222.9" x2="300" y2="222.9" stroke="#262626" stroke-width="1.6" />
<text x="275.8" y="222.5" font-size="14.3" text-anchor="middle" font-weight="bold" font-style="normal" fill="#1a1a1a" >*</text>
<text x="238" y="326.6" font-size="11.3" text-anchor="start" font-weight="normal" font-style="normal" fill="#1a1a1a" >WT</text>
<text x="265" y="326.6" font-size="11.3" fill="#1a1a1a">MG-<tspan font-style="italic">Alk5</tspan> iKO</text>
<text transform="translate(191,253) scale(0.87,1) rotate(-90)" font-size="9.7" font-weight="bold" text-anchor="middle" fill="#1a1a1a">% of time in open arms</text>
<text x="178.3" y="191.8" font-size="16" text-anchor="start" font-weight="normal" font-style="normal" fill="#111" >C</text>
<line x1="433.1" y1="233.3" x2="433.1" y2="278.5" stroke="#a6b9d2" stroke-width="1.3" />
<line x1="425.1" y1="233.3" x2="441.1" y2="233.3" stroke="#a6b9d2" stroke-width="1.3" />
<line x1="425.1" y1="278.5" x2="441.1" y2="278.5" stroke="#a6b9d2" stroke-width="1.3" />
<line x1="480.7" y1="213.9" x2="480.7" y2="272.3" stroke="#f2a2a8" stroke-width="1.3" />
<line x1="472.7" y1="213.9" x2="488.7" y2="213.9" stroke="#f2a2a8" stroke-width="1.3" />
<line x1="472.7" y1="272.3" x2="488.7" y2="272.3" stroke="#f2a2a8" stroke-width="1.3" />
<rect x="417.9" y="257.3" width="29.7" height="55.4" fill="none" stroke="#3b64a3" stroke-width="1.9"/>
<rect x="465" y="244.6" width="29.7" height="68.1" fill="none" stroke="#ee6f79" stroke-width="1.9"/>
<line x1="400.8" y1="198.3" x2="400.8" y2="313.4" stroke="#262626" stroke-width="1.7" />
<line x1="396.6" y1="312.7" x2="512.7" y2="312.7" stroke="#262626" stroke-width="1.8" />
<line x1="395.8" y1="199" x2="400.8" y2="199" stroke="#262626" stroke-width="1.5" />
<text transform="translate(394.9,202.31) scale(0.87,1)" font-size="9.2" font-weight="bold" text-anchor="end" fill="#1a1a1a">60</text>
<line x1="395.8" y1="236.8" x2="400.8" y2="236.8" stroke="#262626" stroke-width="1.5" />
<text transform="translate(394.9,240.11) scale(0.87,1)" font-size="9.2" font-weight="bold" text-anchor="end" fill="#1a1a1a">40</text>
<line x1="395.8" y1="274.7" x2="400.8" y2="274.7" stroke="#262626" stroke-width="1.5" />
<text transform="translate(394.9,278.01) scale(0.87,1)" font-size="9.2" font-weight="bold" text-anchor="end" fill="#1a1a1a">20</text>
<line x1="395.8" y1="312.7" x2="400.8" y2="312.7" stroke="#262626" stroke-width="1.5" />
<text transform="translate(394.9,316.01) scale(0.87,1)" font-size="9.2" font-weight="bold" text-anchor="end" fill="#1a1a1a">0</text>
<line x1="433.1" y1="312.7" x2="433.1" y2="316.5" stroke="#262626" stroke-width="1.4" />
<line x1="480.7" y1="312.7" x2="480.7" y2="316.5" stroke="#262626" stroke-width="1.4" />
<polygon points="433.1,208.15 430.85,212.07 435.35,212.07" stroke="#3e5f96" fill="none" stroke-width="1.2" stroke-linejoin="miter"/>
<circle cx="433.1" cy="227.6" r="1.85" stroke="#3e5f96" fill="none" stroke-width="1.3"/>
<polygon points="433.1,247.85 430.85,251.77 435.35,251.77" stroke="#3e5f96" fill="none" stroke-width="1.2" stroke-linejoin="miter"/>
<circle cx="433.1" cy="254.4" r="1.85" stroke="#3e5f96" fill="none" stroke-width="1.3"/>
<circle cx="429.8" cy="259.4" r="1.85" stroke="#3e5f96" fill="none" stroke-width="1.3"/>
<circle cx="436.3" cy="257.6" r="1.85" stroke="#3e5f96" fill="none" stroke-width="1.3"/>
<circle cx="433.1" cy="263.8" r="1.85" stroke="#3e5f96" fill="none" stroke-width="1.3"/>
<polygon points="433.1,268.95 430.85,272.87 435.35,272.87" stroke="#3e5f96" fill="none" stroke-width="1.2" stroke-linejoin="miter"/>
<circle cx="433.1" cy="278.5" r="1.85" stroke="#3e5f96" fill="none" stroke-width="1.3"/>
<circle cx="433.1" cy="286.2" r="1.85" stroke="#3e5f96" fill="none" stroke-width="1.3"/>
<polygon points="474,210.35 471.75,214.27 476.25,214.27" stroke="#ec6f78" fill="none" stroke-width="1.2" stroke-linejoin="miter"/>
<circle cx="480.7" cy="213.9" r="1.85" stroke="#ec6f78" fill="none" stroke-width="1.3"/>
<circle cx="474" cy="230.3" r="1.85" stroke="#ec6f78" fill="none" stroke-width="1.3"/>
<polygon points="480.7,227.25 478.45,231.17 482.95,231.17" stroke="#ec6f78" fill="none" stroke-width="1.2" stroke-linejoin="miter"/>
<polygon points="487,228.65 484.75,232.57 489.25,232.57" stroke="#ec6f78" fill="none" stroke-width="1.2" stroke-linejoin="miter"/>
<circle cx="480.7" cy="241.2" r="1.85" stroke="#ec6f78" fill="none" stroke-width="1.3"/>
<circle cx="480.7" cy="255.6" r="1.85" stroke="#ec6f78" fill="none" stroke-width="1.3"/>
<polygon points="480.7,268.65 478.45,272.57 482.95,272.57" stroke="#ec6f78" fill="none" stroke-width="1.2" stroke-linejoin="miter"/>
<polygon points="480.7,301.15 478.45,305.07 482.95,305.07" stroke="#ec6f78" fill="none" stroke-width="1.2" stroke-linejoin="miter"/>
<line x1="433.1" y1="196" x2="480.7" y2="196" stroke="#262626" stroke-width="1.6" />
<text x="456.9" y="191.1" font-size="11" text-anchor="middle" font-weight="normal" font-style="normal" fill="#1a1a1a" >ns</text>
<text x="424" y="326.6" font-size="11.3" text-anchor="start" font-weight="normal" font-style="normal" fill="#1a1a1a" >WT</text>
<text x="451" y="326.6" font-size="11.3" fill="#1a1a1a">MG-<tspan font-style="italic">Alk5</tspan> iKO</text>
<text transform="translate(381.3,255.2) scale(0.87,1) rotate(-90)" font-size="9.7" font-weight="bold" text-anchor="middle" fill="#1a1a1a">% of distance in open arms</text>
<text x="359" y="191.8" font-size="16" text-anchor="start" font-weight="normal" font-style="normal" fill="#111" >D</text>
<line x1="584.5" y1="238.5" x2="584.5" y2="300.8" stroke="#a6b9d2" stroke-width="1.3" />
<line x1="576.5" y1="238.5" x2="592.5" y2="238.5" stroke="#a6b9d2" stroke-width="1.3" />
<line x1="576.5" y1="300.8" x2="592.5" y2="300.8" stroke="#a6b9d2" stroke-width="1.3" />
<line x1="633.6" y1="222.6" x2="633.6" y2="286.7" stroke="#f2a2a8" stroke-width="1.3" />
<line x1="625.6" y1="222.6" x2="641.6" y2="222.6" stroke="#f2a2a8" stroke-width="1.3" />
<line x1="625.6" y1="286.7" x2="641.6" y2="286.7" stroke="#f2a2a8" stroke-width="1.3" />
<rect x="569.4" y="271.4" width="29.8" height="41.8" fill="none" stroke="#3b64a3" stroke-width="1.9"/>
<rect x="618.3" y="255.8" width="30.3" height="57.4" fill="none" stroke="#ee6f79" stroke-width="1.9"/>
<line x1="552.7" y1="194.9" x2="552.7" y2="313.9" stroke="#262626" stroke-width="1.7" />
<line x1="548.5" y1="313.2" x2="666.9" y2="313.2" stroke="#262626" stroke-width="1.8" />
<line x1="547.7" y1="195.6" x2="552.7" y2="195.6" stroke="#262626" stroke-width="1.5" />
<text transform="translate(546.8,198.91) scale(0.87,1)" font-size="9.2" font-weight="bold" text-anchor="end" fill="#1a1a1a">50</text>
<line x1="547.7" y1="219.1" x2="552.7" y2="219.1" stroke="#262626" stroke-width="1.5" />
<text transform="translate(546.8,222.41) scale(0.87,1)" font-size="9.2" font-weight="bold" text-anchor="end" fill="#1a1a1a">40</text>
<line x1="547.7" y1="242.6" x2="552.7" y2="242.6" stroke="#262626" stroke-width="1.5" />
<text transform="translate(546.8,245.91) scale(0.87,1)" font-size="9.2" font-weight="bold" text-anchor="end" fill="#1a1a1a">30</text>
<line x1="547.7" y1="266.2" x2="552.7" y2="266.2" stroke="#262626" stroke-width="1.5" />
<text transform="translate(546.8,269.51) scale(0.87,1)" font-size="9.2" font-weight="bold" text-anchor="end" fill="#1a1a1a">20</text>
<line x1="547.7" y1="289.7" x2="552.7" y2="289.7" stroke="#262626" stroke-width="1.5" />
<text transform="translate(546.8,293.01) scale(0.87,1)" font-size="9.2" font-weight="bold" text-anchor="end" fill="#1a1a1a">10</text>
<line x1="547.7" y1="313.2" x2="552.7" y2="313.2" stroke="#262626" stroke-width="1.5" />
<text transform="translate(546.8,316.51) scale(0.87,1)" font-size="9.2" font-weight="bold" text-anchor="end" fill="#1a1a1a">0</text>
<line x1="584.5" y1="313.2" x2="584.5" y2="317" stroke="#262626" stroke-width="1.4" />
<line x1="633.6" y1="313.2" x2="633.6" y2="317" stroke="#262626" stroke-width="1.4" />
<polygon points="584.5,209.85 582.25,213.77 586.75,213.77" stroke="#3e5f96" fill="none" stroke-width="1.2" stroke-linejoin="miter"/>
<circle cx="584.5" cy="216.7" r="1.85" stroke="#3e5f96" fill="none" stroke-width="1.3"/>
<polygon points="584.5,261.45 582.25,265.37 586.75,265.37" stroke="#3e5f96" fill="none" stroke-width="1.2" stroke-linejoin="miter"/>
<polygon points="581.5,271.35 579.25,275.27 583.75,275.27" stroke="#3e5f96" fill="none" stroke-width="1.2" stroke-linejoin="miter"/>
<circle cx="587.7" cy="275.5" r="1.85" stroke="#3e5f96" fill="none" stroke-width="1.3"/>
<polygon points="581.5,280.55 579.25,284.47 583.75,284.47" stroke="#3e5f96" fill="none" stroke-width="1.2" stroke-linejoin="miter"/>
<circle cx="587.7" cy="284.7" r="1.85" stroke="#3e5f96" fill="none" stroke-width="1.3"/>
<circle cx="584.5" cy="292.1" r="1.85" stroke="#3e5f96" fill="none" stroke-width="1.3"/>
<circle cx="587.7" cy="296.6" r="1.85" stroke="#3e5f96" fill="none" stroke-width="1.3"/>
<circle cx="581.5" cy="299" r="1.85" stroke="#3e5f96" fill="none" stroke-width="1.3"/>
<circle cx="633.6" cy="204.7" r="1.85" stroke="#ec6f78" fill="none" stroke-width="1.3"/>
<circle cx="630.4" cy="226.1" r="1.85" stroke="#ec6f78" fill="none" stroke-width="1.3"/>
<polygon points="636.6,221.75 634.35,225.67 638.85,225.67" stroke="#ec6f78" fill="none" stroke-width="1.2" stroke-linejoin="miter"/>
<polygon points="633.6,245.05 631.35,248.97 635.85,248.97" stroke="#ec6f78" fill="none" stroke-width="1.2" stroke-linejoin="miter"/>
<polygon points="633.6,254.55 631.35,258.47 635.85,258.47" stroke="#ec6f78" fill="none" stroke-width="1.2" stroke-linejoin="miter"/>
<circle cx="633.6" cy="263.8" r="1.85" stroke="#ec6f78" fill="none" stroke-width="1.3"/>
<circle cx="630.4" cy="280.4" r="1.85" stroke="#ec6f78" fill="none" stroke-width="1.3"/>
<polygon points="636.6,280.55 634.35,284.47 638.85,284.47" stroke="#ec6f78" fill="none" stroke-width="1.2" stroke-linejoin="miter"/>
<polygon points="633.6,301.65 631.35,305.57 635.85,305.57" stroke="#ec6f78" fill="none" stroke-width="1.2" stroke-linejoin="miter"/>
<line x1="585" y1="190.6" x2="633.6" y2="190.6" stroke="#262626" stroke-width="1.6" />
<text x="609.3" y="185.7" font-size="11" text-anchor="middle" font-weight="normal" font-style="normal" fill="#1a1a1a" >ns</text>
<text x="573" y="326.6" font-size="11.3" text-anchor="start" font-weight="normal" font-style="normal" fill="#1a1a1a" >WT</text>
<text x="600.6" y="326.6" font-size="11.3" fill="#1a1a1a">MG-<tspan font-style="italic">Alk5</tspan> iKO</text>
<text transform="translate(533.6,253.7) scale(0.87,1) rotate(-90)" font-size="9.7" font-weight="bold" text-anchor="middle" fill="#1a1a1a">% of time in open arms</text>
<text x="514.8" y="191.8" font-size="16" text-anchor="start" font-weight="normal" font-style="normal" fill="#111" >E</text>
<g>
<circle cx="53" cy="365" r="25" stroke="#c4c9cf" fill="#e5e9ee" stroke-width="0.9"/>
<circle cx="53" cy="384.75" r="2.34" stroke="#aeb4bb" fill="#ffffff" stroke-width="0.55"/>
<circle cx="59.75" cy="383.56" r="2.34" stroke="#aeb4bb" fill="#ffffff" stroke-width="0.55"/>
<circle cx="65.7" cy="380.13" r="2.34" stroke="#aeb4bb" fill="#ffffff" stroke-width="0.55"/>
<circle cx="72.45" cy="368.43" r="2.34" stroke="#aeb4bb" fill="#ffffff" stroke-width="0.55"/>
<circle cx="72.45" cy="361.57" r="2.34" stroke="#aeb4bb" fill="#ffffff" stroke-width="0.55"/>
<circle cx="70.1" cy="355.12" r="2.34" stroke="#aeb4bb" fill="#ffffff" stroke-width="0.55"/>
<circle cx="65.7" cy="349.87" r="2.34" stroke="#aeb4bb" fill="#ffffff" stroke-width="0.55"/>
<circle cx="59.75" cy="346.44" r="2.34" stroke="#aeb4bb" fill="#ffffff" stroke-width="0.55"/>
<circle cx="53" cy="345.25" r="2.34" stroke="#aeb4bb" fill="#ffffff" stroke-width="0.55"/>
<circle cx="46.25" cy="346.44" r="2.34" stroke="#aeb4bb" fill="#ffffff" stroke-width="0.55"/>
<circle cx="40.3" cy="349.87" r="2.34" stroke="#aeb4bb" fill="#ffffff" stroke-width="0.55"/>
<circle cx="35.9" cy="355.12" r="2.34" stroke="#aeb4bb" fill="#ffffff" stroke-width="0.55"/>
<circle cx="33.55" cy="361.57" r="2.34" stroke="#aeb4bb" fill="#ffffff" stroke-width="0.55"/>
<circle cx="33.55" cy="368.43" r="2.34" stroke="#aeb4bb" fill="#ffffff" stroke-width="0.55"/>
<circle cx="35.9" cy="374.88" r="2.34" stroke="#aeb4bb" fill="#ffffff" stroke-width="0.55"/>
<circle cx="40.3" cy="380.13" r="2.34" stroke="#aeb4bb" fill="#ffffff" stroke-width="0.55"/>
<circle cx="46.25" cy="383.56" r="2.34" stroke="#aeb4bb" fill="#ffffff" stroke-width="0.55"/>
<circle cx="70.1" cy="374.88" r="2.55" stroke="#6fd86f" fill="#7ae97a" stroke-width="0.4"/>
<line x1="62.57" y1="371.7" x2="66.3" y2="371.7" stroke="#333" stroke-width="0.7" />
<polyline points="53,369.47 53,365.85 50.02,362.98 45.98,358.51 44.38,354.47 45.13,350.43 48,346.81 50.02,345.21" fill="none" stroke="#707070" stroke-width="0.45" stroke-dasharray="0.8,1.7" stroke-linejoin="round"/>
<polyline points="53,362.98 56.51,364.15 60.55,365.43 63.74,362.13 64.6,358.09 63.74,353.3 61.3,349.26 59.7,345.21" fill="none" stroke="#707070" stroke-width="0.45" stroke-dasharray="0.8,1.7" stroke-linejoin="round"/>
<polyline points="50.02,362.98 43.53,365.43 42.79,369.47 44.38,373.51 46.83,376.7 48.43,378.3" fill="none" stroke="#707070" stroke-width="0.45" stroke-dasharray="0.8,1.7" stroke-linejoin="round"/>
<ellipse cx="53" cy="374.26" rx="1.28" ry="2.66" fill="#4a3a30"/>
<line x1="53" y1="376.91" x2="52.68" y2="380.43" stroke="#c46060" stroke-width="0.4" />
</g>
<text x="159.4" y="359.2" font-size="16" text-anchor="start" font-weight="normal" font-style="normal" fill="#111" >Barnes Maze</text>
<text x="90.3" y="379" font-size="16" text-anchor="start" font-weight="normal" font-style="normal" fill="#111" >7 weeks</text>
<text x="270.4" y="379" font-size="16" text-anchor="start" font-weight="normal" font-style="normal" fill="#111" >12 weeks</text>
<line x1="95.4" y1="455.2" x2="95.4" y2="520.6" stroke="#a6b9d2" stroke-width="1.3" />
<line x1="87.4" y1="455.2" x2="103.4" y2="455.2" stroke="#a6b9d2" stroke-width="1.3" />
<line x1="87.4" y1="520.6" x2="103.4" y2="520.6" stroke="#a6b9d2" stroke-width="1.3" />
<line x1="151.1" y1="415.7" x2="151.1" y2="476.2" stroke="#f2a2a8" stroke-width="1.3" />
<line x1="143.1" y1="415.7" x2="159.1" y2="415.7" stroke="#f2a2a8" stroke-width="1.3" />
<line x1="143.1" y1="476.2" x2="159.1" y2="476.2" stroke="#f2a2a8" stroke-width="1.3" />
<rect x="78.3" y="489.7" width="33.8" height="39" fill="none" stroke="#3b64a3" stroke-width="1.9"/>
<rect x="133.8" y="447.4" width="34" height="81.3" fill="none" stroke="#ee6f79" stroke-width="1.9"/>
<line x1="59.1" y1="405.6" x2="59.1" y2="529.4" stroke="#262626" stroke-width="1.7" />
<line x1="54.9" y1="528.7" x2="188.8" y2="528.7" stroke="#262626" stroke-width="1.8" />
<line x1="54.1" y1="406.3" x2="59.1" y2="406.3" stroke="#262626" stroke-width="1.5" />
<text transform="translate(53.2,409.61) scale(0.87,1)" font-size="9.2" font-weight="bold" text-anchor="end" fill="#1a1a1a">300</text>
<line x1="54.1" y1="447.3" x2="59.1" y2="447.3" stroke="#262626" stroke-width="1.5" />
<text transform="translate(53.2,450.61) scale(0.87,1)" font-size="9.2" font-weight="bold" text-anchor="end" fill="#1a1a1a">200</text>
<line x1="54.1" y1="488.5" x2="59.1" y2="488.5" stroke="#262626" stroke-width="1.5" />
<text transform="translate(53.2,491.81) scale(0.87,1)" font-size="9.2" font-weight="bold" text-anchor="end" fill="#1a1a1a">100</text>
<line x1="54.1" y1="528.7" x2="59.1" y2="528.7" stroke="#262626" stroke-width="1.5" />
<text transform="translate(53.2,532.01) scale(0.87,1)" font-size="9.2" font-weight="bold" text-anchor="end" fill="#1a1a1a">0</text>
<line x1="95.4" y1="528.7" x2="95.4" y2="532.5" stroke="#262626" stroke-width="1.4" />
<line x1="151.1" y1="528.7" x2="151.1" y2="532.5" stroke="#262626" stroke-width="1.4" />
<circle cx="95.4" cy="412.9" r="1.85" stroke="#3e5f96" fill="none" stroke-width="1.3"/>
<circle cx="95.4" cy="432" r="1.85" stroke="#3e5f96" fill="none" stroke-width="1.3"/>
<polygon points="84.6,473.05 82.35,476.97 86.85,476.97" stroke="#3e5f96" fill="none" stroke-width="1.2" stroke-linejoin="miter"/>
<polygon points="92,473.05 89.75,476.97 94.25,476.97" stroke="#3e5f96" fill="none" stroke-width="1.2" stroke-linejoin="miter"/>
<polygon points="99.3,473.05 97.05,476.97 101.55,476.97" stroke="#3e5f96" fill="none" stroke-width="1.2" stroke-linejoin="miter"/>
<circle cx="106.4" cy="475.4" r="1.85" stroke="#3e5f96" fill="none" stroke-width="1.3"/>
<polygon points="95.4,493.25 93.15,497.17 97.65,497.17" stroke="#3e5f96" fill="none" stroke-width="1.2" stroke-linejoin="miter"/>
<polygon points="95.4,501.95 93.15,505.87 97.65,505.87" stroke="#3e5f96" fill="none" stroke-width="1.2" stroke-linejoin="miter"/>
<polygon points="92,506.45 89.75,510.37 94.25,510.37" stroke="#3e5f96" fill="none" stroke-width="1.2" stroke-linejoin="miter"/>
<polygon points="99.3,508.55 97.05,512.47 101.55,512.47" stroke="#3e5f96" fill="none" stroke-width="1.2" stroke-linejoin="miter"/>
<circle cx="106.4" cy="510.3" r="1.85" stroke="#3e5f96" fill="none" stroke-width="1.3"/>
<polygon points="95.4,512.95 93.15,516.87 97.65,516.87" stroke="#3e5f96" fill="none" stroke-width="1.2" stroke-linejoin="miter"/>
<polygon points="99.3,516.95 97.05,520.87 101.55,520.87" stroke="#3e5f96" fill="none" stroke-width="1.2" stroke-linejoin="miter"/>
<polygon points="92,519.05 89.75,522.97 94.25,522.97" stroke="#3e5f96" fill="none" stroke-width="1.2" stroke-linejoin="miter"/>
<polygon points="144,410.55 141.75,414.47 146.25,414.47" stroke="#ec6f78" fill="none" stroke-width="1.2" stroke-linejoin="miter"/>
<polygon points="151.1,410.55 148.85,414.47 153.35,414.47" stroke="#ec6f78" fill="none" stroke-width="1.2" stroke-linejoin="miter"/>
<polygon points="158.2,410.55 155.95,414.47 160.45,414.47" stroke="#ec6f78" fill="none" stroke-width="1.2" stroke-linejoin="miter"/>
<polygon points="151.1,442.85 148.85,446.77 153.35,446.77" stroke="#ec6f78" fill="none" stroke-width="1.2" stroke-linejoin="miter"/>
<circle cx="151.1" cy="454.9" r="1.85" stroke="#ec6f78" fill="none" stroke-width="1.3"/>
<polygon points="147.7,473.05 145.45,476.97 149.95,476.97" stroke="#ec6f78" fill="none" stroke-width="1.2" stroke-linejoin="miter"/>
<circle cx="155" cy="475.4" r="1.85" stroke="#ec6f78" fill="none" stroke-width="1.3"/>
<circle cx="151.1" cy="480.1" r="1.85" stroke="#ec6f78" fill="none" stroke-width="1.3"/>
<line x1="95.9" y1="397.9" x2="151" y2="397.9" stroke="#262626" stroke-width="1.6" />
<text x="123.5" y="397.5" font-size="14.3" text-anchor="middle" font-weight="bold" font-style="normal" fill="#1a1a1a" >**</text>
<text x="85.2" y="543.2" font-size="11.3" text-anchor="start" font-weight="normal" font-style="normal" fill="#1a1a1a" >WT</text>
<text x="118.2" y="543.2" font-size="11.3" fill="#1a1a1a">MG-<tspan font-style="italic">Alk5</tspan> iKO</text>
<text transform="translate(19.1,467.5) rotate(-90)" font-size="10.1" font-weight="bold" text-anchor="middle" fill="#1a1a1a">Latency to Exit</text>
<text transform="translate(30.9,467.5) rotate(-90)" font-size="10.1" font-weight="bold" text-anchor="middle" fill="#1a1a1a">(% of WT Mean)</text>
<text x="14.8" y="407.4" font-size="16" text-anchor="start" font-weight="normal" font-style="normal" fill="#111" >F</text>
<line x1="281.2" y1="486.4" x2="281.2" y2="518.7" stroke="#a6b9d2" stroke-width="1.3" />
<line x1="273.2" y1="486.4" x2="289.2" y2="486.4" stroke="#a6b9d2" stroke-width="1.3" />
<line x1="273.2" y1="518.7" x2="289.2" y2="518.7" stroke="#a6b9d2" stroke-width="1.3" />
<line x1="336.3" y1="469.3" x2="336.3" y2="529.3" stroke="#f2a2a8" stroke-width="1.3" />
<line x1="328.3" y1="469.3" x2="344.3" y2="469.3" stroke="#f2a2a8" stroke-width="1.3" />
<rect x="263.9" y="504.1" width="34.2" height="25.2" fill="none" stroke="#3b64a3" stroke-width="1.9"/>
<rect x="319" y="502.9" width="34.3" height="26.4" fill="none" stroke="#ee6f79" stroke-width="1.9"/>
<line x1="243.8" y1="405.9" x2="243.8" y2="530" stroke="#262626" stroke-width="1.7" />
<line x1="239.6" y1="529.3" x2="373.9" y2="529.3" stroke="#262626" stroke-width="1.8" />
<line x1="238.8" y1="406.6" x2="243.8" y2="406.6" stroke="#262626" stroke-width="1.5" />
<text transform="translate(237.9,409.91) scale(0.87,1)" font-size="9.2" font-weight="bold" text-anchor="end" fill="#1a1a1a">500</text>
<line x1="238.8" y1="431.3" x2="243.8" y2="431.3" stroke="#262626" stroke-width="1.5" />
<text transform="translate(237.9,434.61) scale(0.87,1)" font-size="9.2" font-weight="bold" text-anchor="end" fill="#1a1a1a">400</text>
<line x1="238.8" y1="455.7" x2="243.8" y2="455.7" stroke="#262626" stroke-width="1.5" />
<text transform="translate(237.9,459.01) scale(0.87,1)" font-size="9.2" font-weight="bold" text-anchor="end" fill="#1a1a1a">300</text>
<line x1="238.8" y1="480.1" x2="243.8" y2="480.1" stroke="#262626" stroke-width="1.5" />
<text transform="translate(237.9,483.41) scale(0.87,1)" font-size="9.2" font-weight="bold" text-anchor="end" fill="#1a1a1a">200</text>
<line x1="238.8" y1="504.6" x2="243.8" y2="504.6" stroke="#262626" stroke-width="1.5" />
<text transform="translate(237.9,507.91) scale(0.87,1)" font-size="9.2" font-weight="bold" text-anchor="end" fill="#1a1a1a">100</text>
<line x1="238.8" y1="529.3" x2="243.8" y2="529.3" stroke="#262626" stroke-width="1.5" />
<text transform="translate(237.9,532.61) scale(0.87,1)" font-size="9.2" font-weight="bold" text-anchor="end" fill="#1a1a1a">0</text>
<line x1="281.2" y1="529.3" x2="281.2" y2="533.1" stroke="#262626" stroke-width="1.4" />
<line x1="336.3" y1="529.3" x2="336.3" y2="533.1" stroke="#262626" stroke-width="1.4" />
<circle cx="281.2" cy="474.1" r="1.85" stroke="#3e5f96" fill="none" stroke-width="1.3"/>
<polygon points="281.2,475.65 278.95,479.57 283.45,479.57" stroke="#3e5f96" fill="none" stroke-width="1.2" stroke-linejoin="miter"/>
<polygon points="281.2,484.35 278.95,488.27 283.45,488.27" stroke="#3e5f96" fill="none" stroke-width="1.2" stroke-linejoin="miter"/>
<polygon points="273.8,496.65 271.55,500.57 276.05,500.57" stroke="#3e5f96" fill="none" stroke-width="1.2" stroke-linejoin="miter"/>
<circle cx="281.2" cy="497.7" r="1.85" stroke="#3e5f96" fill="none" stroke-width="1.3"/>
<circle cx="288.2" cy="497.7" r="1.85" stroke="#3e5f96" fill="none" stroke-width="1.3"/>
<circle cx="288.2" cy="501.7" r="1.85" stroke="#3e5f96" fill="none" stroke-width="1.3"/>
<polygon points="281.2,501.45 278.95,505.37 283.45,505.37" stroke="#3e5f96" fill="none" stroke-width="1.2" stroke-linejoin="miter"/>
<polygon points="281.2,509.05 278.95,512.97 283.45,512.97" stroke="#3e5f96" fill="none" stroke-width="1.2" stroke-linejoin="miter"/>
<circle cx="277.7" cy="516.1" r="1.85" stroke="#3e5f96" fill="none" stroke-width="1.3"/>
<polygon points="284.6,515.05 282.35,518.97 286.85,518.97" stroke="#3e5f96" fill="none" stroke-width="1.2" stroke-linejoin="miter"/>
<circle cx="284.6" cy="521.4" r="1.85" stroke="#3e5f96" fill="none" stroke-width="1.3"/>
<polygon points="277.7,522.15 275.45,526.07 279.95,526.07" stroke="#3e5f96" fill="none" stroke-width="1.2" stroke-linejoin="miter"/>
<circle cx="336.3" cy="428.1" r="1.85" stroke="#ec6f78" fill="none" stroke-width="1.3"/>
<polygon points="336.3,442.05 334.05,445.97 338.55,445.97" stroke="#ec6f78" fill="none" stroke-width="1.2" stroke-linejoin="miter"/>
<circle cx="336.3" cy="460.4" r="1.85" stroke="#ec6f78" fill="none" stroke-width="1.3"/>
<circle cx="336.3" cy="484.6" r="1.85" stroke="#ec6f78" fill="none" stroke-width="1.3"/>
<circle cx="336.3" cy="503.8" r="1.85" stroke="#ec6f78" fill="none" stroke-width="1.3"/>
<circle cx="329.2" cy="513" r="1.85" stroke="#ec6f78" fill="none" stroke-width="1.3"/>
<polygon points="336.3,512.45 334.05,516.37 338.55,516.37" stroke="#ec6f78" fill="none" stroke-width="1.2" stroke-linejoin="miter"/>
<circle cx="343.4" cy="516.1" r="1.85" stroke="#ec6f78" fill="none" stroke-width="1.3"/>
<polygon points="321.9,516.95 319.65,520.87 324.15,520.87" stroke="#ec6f78" fill="none" stroke-width="1.2" stroke-linejoin="miter"/>
<polygon points="329.2,519.05 326.95,522.97 331.45,522.97" stroke="#ec6f78" fill="none" stroke-width="1.2" stroke-linejoin="miter"/>
<circle cx="336.3" cy="518.7" r="1.85" stroke="#ec6f78" fill="none" stroke-width="1.3"/>
<circle cx="336.3" cy="522.7" r="1.85" stroke="#ec6f78" fill="none" stroke-width="1.3"/>
<polygon points="343.4,520.35 341.15,524.27 345.65,524.27" stroke="#ec6f78" fill="none" stroke-width="1.2" stroke-linejoin="miter"/>
<polygon points="351.3,516.95 349.05,520.87 353.55,520.87" stroke="#ec6f78" fill="none" stroke-width="1.2" stroke-linejoin="miter"/>
<circle cx="336.3" cy="527.9" r="1.85" stroke="#ec6f78" fill="none" stroke-width="1.3"/>
<line x1="281.2" y1="413.6" x2="336.3" y2="413.6" stroke="#262626" stroke-width="1.6" />
<text x="308.7" y="408.7" font-size="11" text-anchor="middle" font-weight="normal" font-style="normal" fill="#1a1a1a" >ns</text>
<text x="270.4" y="543.2" font-size="11.3" text-anchor="start" font-weight="normal" font-style="normal" fill="#1a1a1a" >WT</text>
<text x="304" y="543.2" font-size="11.3" fill="#1a1a1a">MG-<tspan font-style="italic">Alk5</tspan> iKO</text>
<text transform="translate(204.7,467) rotate(-90)" font-size="10.1" font-weight="bold" text-anchor="middle" fill="#1a1a1a">Latency to Exit</text>
<text transform="translate(215.5,467) rotate(-90)" font-size="10.1" font-weight="bold" text-anchor="middle" fill="#1a1a1a">(% of WT Mean)</text>
<text x="196.3" y="406.5" font-size="16" text-anchor="start" font-weight="normal" font-style="normal" fill="#111" >G</text>
<circle cx="533.3" cy="358.9" r="2.6" stroke="#111" fill="none" stroke-width="1.7"/>
<polygon points="533.3,367.1 530,372.9 536.6,372.9" fill="#111"/>
<circle cx="542.5" cy="357.9" r="2" stroke="#111" fill="none" stroke-width="1.5"/>
<line x1="542.5" y1="359.9" x2="542.5" y2="363.8" stroke="#111" stroke-width="1.4" />
<line x1="540.5" y1="361.9" x2="544.5" y2="361.9" stroke="#111" stroke-width="1.3" />
<circle cx="541.7" cy="371.5" r="2.1" stroke="#111" fill="none" stroke-width="1.5"/>
<line x1="543.2" y1="370" x2="545.5" y2="367.7" stroke="#111" stroke-width="1.3" />
<polygon points="546.3,366.9 543.4,367.1 546.1,369.8" fill="#111"/>
<circle cx="560.7" cy="356.6" r="1.9" stroke="#3b64a3" fill="none" stroke-width="1.1"/>
<circle cx="560.7" cy="373.1" r="1.9" stroke="#ee6f79" fill="none" stroke-width="1.1"/>
<text x="568.4" y="359.8" font-size="10.8" text-anchor="start" font-weight="normal" font-style="normal" fill="#222" >Control</text>
<text x="568.4" y="376.3" font-size="10.8" font-style="italic" fill="#222">Cx3cr1<tspan font-size="5.8" dy="-4.3">CreER</tspan><tspan dy="4.3">Alk5</tspan><tspan font-size="6" dy="-4.3">fl/fl</tspan></text>
<line x1="457.4" y1="420.85" x2="457.4" y2="436.39" stroke="#f2a2a8" stroke-width="1.2" />
<line x1="454.8" y1="420.85" x2="460" y2="420.85" stroke="#f2a2a8" stroke-width="1.2" />
<line x1="454.8" y1="436.39" x2="460" y2="436.39" stroke="#f2a2a8" stroke-width="1.2" />
<line x1="491.8" y1="406.99" x2="491.8" y2="440.7" stroke="#f2a2a8" stroke-width="1.2" />
<line x1="489.2" y1="406.99" x2="494.4" y2="406.99" stroke="#f2a2a8" stroke-width="1.2" />
<line x1="489.2" y1="440.7" x2="494.4" y2="440.7" stroke="#f2a2a8" stroke-width="1.2" />
<line x1="526.2" y1="414.19" x2="526.2" y2="433.28" stroke="#f2a2a8" stroke-width="1.2" />
<line x1="523.6" y1="414.19" x2="528.8" y2="414.19" stroke="#f2a2a8" stroke-width="1.2" />
<line x1="523.6" y1="433.28" x2="528.8" y2="433.28" stroke="#f2a2a8" stroke-width="1.2" />
<line x1="457.4" y1="425.32" x2="457.4" y2="438.68" stroke="#7d98c2" stroke-width="1.2" />
<line x1="454.8" y1="425.32" x2="460" y2="425.32" stroke="#7d98c2" stroke-width="1.2" />
<line x1="454.8" y1="438.68" x2="460" y2="438.68" stroke="#7d98c2" stroke-width="1.2" />
<line x1="491.8" y1="414.57" x2="491.8" y2="442.5" stroke="#7d98c2" stroke-width="1.2" />
<line x1="489.2" y1="414.57" x2="494.4" y2="414.57" stroke="#7d98c2" stroke-width="1.2" />
<line x1="489.2" y1="442.5" x2="494.4" y2="442.5" stroke="#7d98c2" stroke-width="1.2" />
<line x1="526.2" y1="403.39" x2="526.2" y2="416.48" stroke="#7d98c2" stroke-width="1.2" />
<line x1="523.6" y1="403.39" x2="528.8" y2="403.39" stroke="#7d98c2" stroke-width="1.2" />
<line x1="523.6" y1="416.48" x2="528.8" y2="416.48" stroke="#7d98c2" stroke-width="1.2" />
<polyline points="457.4,428.7 491.8,423.79 526.2,423.79" fill="none" stroke="#ee6f79" stroke-width="1.35"/>
<circle cx="457.4" cy="428.7" r="2.3" stroke="#ee6f79" fill="none" stroke-width="1.2"/>
<polygon points="491.8,421.18 489.3,425.53 494.3,425.53" stroke="#ee6f79" fill="none" stroke-width="1.2" stroke-linejoin="miter"/>
<circle cx="526.2" cy="423.79" r="2.3" stroke="#ee6f79" fill="none" stroke-width="1.2"/>
<polyline points="457.4,432.08 491.8,429.03 526.2,410.32" fill="none" stroke="#2f4d8c" stroke-width="1.35"/>
<circle cx="457.4" cy="432.08" r="2.3" stroke="#2f4d8c" fill="none" stroke-width="1.2"/>
<circle cx="491.8" cy="429.03" r="2.3" stroke="#2f4d8c" fill="none" stroke-width="1.2"/>
<polygon points="526.2,407.71 523.7,412.06 528.7,412.06" stroke="#2f4d8c" fill="none" stroke-width="1.2" stroke-linejoin="miter"/>
<line x1="434.4" y1="401.6" x2="434.4" y2="512.1" stroke="#262626" stroke-width="1.7" />
<line x1="430.2" y1="511.4" x2="548.2" y2="511.4" stroke="#262626" stroke-width="1.8" />
<line x1="429.4" y1="402.3" x2="434.4" y2="402.3" stroke="#262626" stroke-width="1.5" />
<text transform="translate(428.5,405.61) scale(0.87,1)" font-size="9.2" font-weight="bold" text-anchor="end" fill="#1a1a1a">200</text>
<line x1="429.4" y1="429.4" x2="434.4" y2="429.4" stroke="#262626" stroke-width="1.5" />
<text transform="translate(428.5,432.71) scale(0.87,1)" font-size="9.2" font-weight="bold" text-anchor="end" fill="#1a1a1a">150</text>
<line x1="429.4" y1="456.7" x2="434.4" y2="456.7" stroke="#262626" stroke-width="1.5" />
<text transform="translate(428.5,460.01) scale(0.87,1)" font-size="9.2" font-weight="bold" text-anchor="end" fill="#1a1a1a">100</text>
<line x1="429.4" y1="484.1" x2="434.4" y2="484.1" stroke="#262626" stroke-width="1.5" />
<text transform="translate(428.5,487.41) scale(0.87,1)" font-size="9.2" font-weight="bold" text-anchor="end" fill="#1a1a1a">50</text>
<line x1="429.4" y1="511.4" x2="434.4" y2="511.4" stroke="#262626" stroke-width="1.5" />
<text transform="translate(428.5,514.71) scale(0.87,1)" font-size="9.2" font-weight="bold" text-anchor="end" fill="#1a1a1a">0</text>
<line x1="457.4" y1="511.4" x2="457.4" y2="515.2" stroke="#262626" stroke-width="1.4" />
<text transform="translate(459.9,520.9) rotate(-45)" font-size="8.4" font-weight="bold" text-anchor="end" fill="#1a1a1a">Trial 1</text>
<line x1="491.8" y1="511.4" x2="491.8" y2="515.2" stroke="#262626" stroke-width="1.4" />
<text transform="translate(494.3,520.9) rotate(-45)" font-size="8.4" font-weight="bold" text-anchor="end" fill="#1a1a1a">Trial 2</text>
<line x1="526.2" y1="511.4" x2="526.2" y2="515.2" stroke="#262626" stroke-width="1.4" />
<text transform="translate(528.7,520.9) rotate(-45)" font-size="8.4" font-weight="bold" text-anchor="end" fill="#1a1a1a">Trial 3</text>
<path d="M533.8,408 H538.8 V423.4 H533.8" fill="none" stroke="#111" stroke-width="1.7"/>
<text x="541.6" y="418.9" font-size="10.3" text-anchor="start" font-weight="normal" font-style="normal" fill="#1a1a1a" >ns</text>
<text transform="translate(409.8,455.7) scale(0.87,1) rotate(-90)" font-size="9.7" font-weight="bold" text-anchor="middle" fill="#1a1a1a">Latency to  Fall (s)</text>
<text x="383.5" y="407.9" font-size="16" text-anchor="start" font-weight="normal" font-style="normal" fill="#111" >H</text>
<text x="589.5" y="432.8" font-size="16" text-anchor="start" font-weight="normal" font-style="normal" fill="#111" >Rotarod</text>
<g transform="translate(592.7,451) scale(1.13,1.13)">
<path d="M0.8,36.8 L3.6,33.0 L38.5,33.0 L41.2,36.8 z" fill="#f6f6f0" stroke="#c8c8be" stroke-width="0.4"/>
<rect x="4.8" y="29.6" width="31.2" height="5.6" fill="#a7ab9e"/>
<rect x="4.8" y="33.2" width="31.2" height="2.0" fill="#7f8378"/>
<rect x="5.5" y="11.0" width="32.0" height="5.4" fill="#4d4d4d"/>
<path d="M41.0,11.5 h1.2 a2.5,2.5 0 0 1 0,4.9 h-1.2 z" fill="#3a3a3a"/>
<rect x="1.3" y="2.3" width="2.4" height="33.5" fill="#c4c4c4" stroke="#8e8e8e" stroke-width="0.4"/>
<rect x="38.5" y="2.3" width="2.4" height="33.5" fill="#c4c4c4" stroke="#8e8e8e" stroke-width="0.4"/>
<path d="M5,0 C4,8 4,26 5,35.5 L6,35.5 C7,26 7,8 6,0 z" fill="#c6c6c6" stroke="#8a8a8a" stroke-width="0.4"/>
<path d="M34.2,0 C33.2,8 33.2,26 34.2,35.5 L35.2,35.5 C36.2,26 36.2,8 35.2,0 z" fill="#c6c6c6" stroke="#8a8a8a" stroke-width="0.4"/>
<rect x="10.9" y="0" width="1.4" height="35.5" fill="#c8c8c8" stroke="#909090" stroke-width="0.35"/>
<rect x="16.2" y="0" width="1.4" height="35.5" fill="#c8c8c8" stroke="#909090" stroke-width="0.35"/>
<rect x="22.5" y="0" width="1.4" height="35.5" fill="#c8c8c8" stroke="#909090" stroke-width="0.35"/>
<rect x="28.2" y="0" width="1.4" height="35.5" fill="#c8c8c8" stroke="#909090" stroke-width="0.35"/>
<rect x="0.6" y="36.6" width="40.6" height="9.8" rx="0.8" fill="#ececE6" stroke="#c0c0b6" stroke-width="0.6"/>
<rect x="12.4" y="39.1" width="16.6" height="3.8" fill="#5b6b99"/>
<path d="M17,42.9 L21.5,39.1 L24.5,39.1 L20,42.9 z" fill="#8c9ac0" opacity="0.7"/>
<rect x="7.8" y="39.5" width="3.0" height="0.9" fill="#4c5a88"/>
<rect x="30.6" y="39.5" width="3.0" height="0.9" fill="#4c5a88"/>
<rect x="7.8" y="42.2" width="3.0" height="0.9" fill="#4c5a88"/>
<rect x="30.6" y="42.2" width="3.0" height="0.9" fill="#4c5a88"/>
</g>
<text x="25.3" y="607.6" font-size="18.4" style="font-family:'Liberation Serif',serif" fill="#111">I</text>
<g transform="translate(-2.6,556.9) scale(0.98)">
<path d="M58.5,85.6 C62,83 67,81 71,81.2 C74.5,81.4 76,82.8 74.6,85.2 C73.4,87.2 71.2,88.2 69.6,89.2" fill="none" stroke="#c48b84" stroke-width="1.25" stroke-linecap="round"/>
<path d="M33.2,96.5 L32.0,102.2 L30.6,103.4 L36.4,103.6 L35.6,102.0 L36.6,97.5 z" fill="#c9958e"/>
<path d="M48.2,100.5 L48.8,105.0 L47.0,106.6 L53.2,106.9 L51.6,105.0 L51.8,100.0 z" fill="#c9958e"/>
<path d="M57.5,90.5 L61.5,92.6 L57.5,93.4 z" fill="#c9958e"/>
<path d="M24.1,82.3 C24.8,79.2 27.0,76.6 29.6,75.6 L33.4,70.9 L35.0,76.4 C37.5,75.6 40.5,75.8 42.5,76.6 C46.5,77.2 52.0,79.0 55.4,81.8 C58.2,84.3 59.6,88.0 59.2,91.4 C58.8,95.2 56.2,98.8 53.5,100.6 C50.8,102.2 46.8,102.6 43.8,101.6 C40.8,100.6 37.8,99.4 35.4,97.6 C31.8,95.0 28.0,91.0 26.4,87.4 C25.4,85.6 24.4,84.0 24.1,82.3 z" fill="#4a4543"/>
<path d="M29.2,76.0 L33.2,71.4 L34.2,76.4 z" fill="#b98c88"/>
<ellipse cx="44.5" cy="77.8" rx="5.0" ry="5.6" fill="#c39797"/>
<path d="M41.5,80.5 C41.0,77.0 43.0,74.5 46.0,74.8 C47.8,75.5 48.2,78.5 47.0,81.0 C45.5,83.0 42.5,83.0 41.5,80.5 z" fill="#b88584"/>
<circle cx="24.6" cy="82.6" r="1.1" fill="#d69c9c"/>
<path d="M33.4,80.6 q1.6,-1.0 2.8,0.4" stroke="#1e1e1e" stroke-width="1.0" fill="none"/>
<path d="M23.5,81.5 l-3,-1 M23.5,82.5 l-3,0.5" stroke="#d8d8d8" stroke-width="0.3"/>
</g>
<text x="89.3" y="609.4" font-size="15" font-style="italic" fill="#111">Cx3cr1<tspan font-size="9" font-style="normal" dy="-5.2" dx="0.6">CreER</tspan></text>
<path d="M81.7,636.2 V617.3 H106.5" fill="none" stroke="#111" stroke-width="1.2"/>
<polygon points="105.5,614.1 112,617.3 105.5,620.5" fill="#111"/>
<line x1="74.4" y1="636.2" x2="209.5" y2="636.2" stroke="#111" stroke-width="1.9" />
<rect x="126.1" y="627.3" width="48.1" height="15.7" fill="#cfe7f8" stroke="#7d8690" stroke-width="1"/>
<text x="150.15" y="638.4" font-size="9.8" text-anchor="middle" font-weight="normal" font-style="normal" fill="#222" >CreER</text>
<line x1="75.2" y1="665.5" x2="211.9" y2="665.5" stroke="#111" stroke-width="1.9" />
<polygon points="81.4,659.3 91.2,665.5 81.4,671.7" fill="#111"/>
<polygon points="201.4,659.3 211.9,665.5 201.4,671.7" fill="#111"/>
<rect x="126.2" y="657.9" width="39.4" height="16.3" fill="#a9a9a9" stroke="#4a4a4a" stroke-width="1"/>
<text x="145.9" y="669.4" font-size="9.6" text-anchor="middle" font-weight="normal" font-style="normal" fill="#222" >Exon 3</text>
<text x="76.7" y="681.5" font-size="9.3" text-anchor="start" font-weight="normal" font-style="normal" fill="#222" >loxP</text>
<text x="197" y="681.5" font-size="9.3" text-anchor="start" font-weight="normal" font-style="normal" fill="#222" >loxP</text>
<text x="92.4" y="692" font-size="12" font-style="italic" fill="#222">Tgfb1<tspan font-size="7.4" dy="-4.6">WT/WT</tspan><tspan dy="4.6"> or Tgfb1</tspan><tspan font-size="7.4" dy="-4.6">fl/fl</tspan></text>
<rect x="236.6" y="603.1" width="68" height="29.4" fill="#dcebf7"/>
<text x="270.6" y="616" font-size="11.25" text-anchor="middle" font-weight="normal" font-style="normal" fill="#222" >Tamoxifen</text>
<text x="270.6" y="628.6" font-size="11.25" text-anchor="middle" font-weight="normal" font-style="normal" fill="#222" >180mg/kg X5</text>
<polygon points="229.2,651.5 236.74,641.7 244.28,651.5" fill="#e4edf8" stroke="#4b7cc2" stroke-width="1.2" stroke-linejoin="miter"/>
<polygon points="244.28,651.5 251.82,641.7 259.36,651.5" fill="#e4edf8" stroke="#4b7cc2" stroke-width="1.2" stroke-linejoin="miter"/>
<polygon points="259.36,651.5 266.9,641.7 274.44,651.5" fill="#e4edf8" stroke="#4b7cc2" stroke-width="1.2" stroke-linejoin="miter"/>
<polygon points="274.44,651.5 281.98,641.7 289.52,651.5" fill="#e4edf8" stroke="#4b7cc2" stroke-width="1.2" stroke-linejoin="miter"/>
<polygon points="289.52,651.5 297.06,641.7 304.6,651.5" fill="#e4edf8" stroke="#4b7cc2" stroke-width="1.2" stroke-linejoin="miter"/>
<line x1="227.1" y1="654.9" x2="663.1" y2="654.9" stroke="#0a0a0a" stroke-width="2.5" />
<rect x="226.1" y="653.1" width="3" height="3.6" fill="#0a0a0a"/>
<rect x="661.1" y="653.1" width="3" height="3.6" fill="#0a0a0a"/>
<text x="241.8" y="673.3" font-size="11.05" text-anchor="start" font-weight="normal" font-style="normal" fill="#222" >6-8 wks old</text>
<path d="M361,632.5 H365 V644.5 H369.6 L363,651.5 L356.4,644.5 H361 Z" fill="#f5f4de" stroke="#a2735c" stroke-width="1.25" stroke-linejoin="miter"/>
<path d="M415.2,632.5 H419.2 V644.5 H423.8 L417.2,651.5 L410.6,644.5 H415.2 Z" fill="#f5f4de" stroke="#a2735c" stroke-width="1.25" stroke-linejoin="miter"/>
<path d="M468,632.5 H472 V644.5 H476.6 L470,651.5 L463.4,644.5 H468 Z" fill="#f5f4de" stroke="#a2735c" stroke-width="1.25" stroke-linejoin="miter"/>
<path d="M557.5,632.5 H561.5 V644.5 H566.1 L559.5,651.5 L552.9,644.5 H557.5 Z" fill="#f5f4de" stroke="#a2735c" stroke-width="1.25" stroke-linejoin="miter"/>
<path d="M614,632.5 H618 V644.5 H622.6 L616,651.5 L609.4,644.5 H614 Z" fill="#f5f4de" stroke="#a2735c" stroke-width="1.25" stroke-linejoin="miter"/>
<path d="M361.4,660.2 V671.2 H469.3 V660.2" fill="none" stroke="#333" stroke-width="1.2"/>
<line x1="415.2" y1="671.2" x2="415.2" y2="681" stroke="#333" stroke-width="1.2" />
<text x="415.5" y="692.5" font-size="11.15" text-anchor="middle" font-weight="normal" font-style="normal" fill="#222" >5-6 weeks post TAM</text>
<path d="M558,660.2 V671.2 H617.5 V660.2" fill="none" stroke="#333" stroke-width="1.2"/>
<line x1="588.6" y1="671.2" x2="588.6" y2="681" stroke="#333" stroke-width="1.2" />
<text x="588.9" y="692.4" font-size="11.15" text-anchor="middle" font-weight="normal" font-style="normal" fill="#222" >12 weeks post TAM</text>
<g transform="translate(363.1,598.4) scale(0.87)">
<rect x="-4" y="-24.5" width="8" height="52.7" fill="#eff0f2" stroke="#b8bcc0" stroke-width="0.7"/>
<rect x="-27.5" y="-4.8" width="23.5" height="9.5" fill="#eceef0" stroke="#9da1a6" stroke-width="1.1"/>
<rect x="4" y="-4.8" width="23.5" height="9.5" fill="#eceef0" stroke="#9da1a6" stroke-width="1.1"/>
<rect x="-4.6" y="-4.2" width="9.2" height="8.4" fill="#eff0f2"/>
<line x1="-19" y1="0" x2="-13" y2="0" stroke="#9a9a9a" stroke-width="0.6" />
<line x1="13" y1="0" x2="19" y2="0" stroke="#9a9a9a" stroke-width="0.6" />
<path d="M-0.6,15.5 c-1.4,1.2 -1.5,4.6 -0.5,6.6 c0.9,0.7 2.3,0.3 2.5,-0.7 c-0.6,-1.1 -0.9,-1.7 -0.9,-3.3 c-0.2,-1.7 -0.6,-2.6 -1.1,-2.6 z" fill="#3d2e28"/>
<line x1="0.3" y1="22" x2="0" y2="26" stroke="#c87070" stroke-width="0.4" />
</g>
<g>
<circle cx="417.1" cy="599" r="24.4" stroke="#c4c9cf" fill="#e5e9ee" stroke-width="0.9"/>
<circle cx="417.1" cy="618.28" r="2.28" stroke="#aeb4bb" fill="#ffffff" stroke-width="0.55"/>
<circle cx="423.69" cy="617.11" r="2.28" stroke="#aeb4bb" fill="#ffffff" stroke-width="0.55"/>
<circle cx="429.49" cy="613.77" r="2.28" stroke="#aeb4bb" fill="#ffffff" stroke-width="0.55"/>
<circle cx="436.08" cy="602.35" r="2.28" stroke="#aeb4bb" fill="#ffffff" stroke-width="0.55"/>
<circle cx="436.08" cy="595.65" r="2.28" stroke="#aeb4bb" fill="#ffffff" stroke-width="0.55"/>
<circle cx="433.79" cy="589.36" r="2.28" stroke="#aeb4bb" fill="#ffffff" stroke-width="0.55"/>
<circle cx="429.49" cy="584.23" r="2.28" stroke="#aeb4bb" fill="#ffffff" stroke-width="0.55"/>
<circle cx="423.69" cy="580.89" r="2.28" stroke="#aeb4bb" fill="#ffffff" stroke-width="0.55"/>
<circle cx="417.1" cy="579.72" r="2.28" stroke="#aeb4bb" fill="#ffffff" stroke-width="0.55"/>
<circle cx="410.51" cy="580.89" r="2.28" stroke="#aeb4bb" fill="#ffffff" stroke-width="0.55"/>
<circle cx="404.71" cy="584.23" r="2.28" stroke="#aeb4bb" fill="#ffffff" stroke-width="0.55"/>
<circle cx="400.41" cy="589.36" r="2.28" stroke="#aeb4bb" fill="#ffffff" stroke-width="0.55"/>
<circle cx="398.12" cy="595.65" r="2.28" stroke="#aeb4bb" fill="#ffffff" stroke-width="0.55"/>
<circle cx="398.12" cy="602.35" r="2.28" stroke="#aeb4bb" fill="#ffffff" stroke-width="0.55"/>
<circle cx="400.41" cy="608.64" r="2.28" stroke="#aeb4bb" fill="#ffffff" stroke-width="0.55"/>
<circle cx="404.71" cy="613.77" r="2.28" stroke="#aeb4bb" fill="#ffffff" stroke-width="0.55"/>
<circle cx="410.51" cy="617.11" r="2.28" stroke="#aeb4bb" fill="#ffffff" stroke-width="0.55"/>
<circle cx="433.79" cy="608.64" r="2.49" stroke="#6fd86f" fill="#7ae97a" stroke-width="0.4"/>
<line x1="426.44" y1="605.54" x2="430.08" y2="605.54" stroke="#333" stroke-width="0.7" />
<polyline points="417.1,603.36 417.1,599.83 414.19,597.03 410.25,592.67 408.69,588.72 409.42,584.78 412.22,581.25 414.19,579.69" fill="none" stroke="#707070" stroke-width="0.45" stroke-dasharray="0.8,1.7" stroke-linejoin="round"/>
<polyline points="417.1,597.03 420.53,598.17 424.47,599.42 427.59,596.2 428.42,592.25 427.59,587.58 425.2,583.63 423.64,579.69" fill="none" stroke="#707070" stroke-width="0.45" stroke-dasharray="0.8,1.7" stroke-linejoin="round"/>
<polyline points="414.19,597.03 407.86,599.42 407.13,603.36 408.69,607.31 411.08,610.42 412.64,611.98" fill="none" stroke="#707070" stroke-width="0.45" stroke-dasharray="0.8,1.7" stroke-linejoin="round"/>
<ellipse cx="417.1" cy="608.03" rx="1.25" ry="2.6" fill="#4a3a30"/>
<line x1="417.1" y1="610.63" x2="416.79" y2="614.06" stroke="#c46060" stroke-width="0.4" />
</g>
<g transform="translate(447.2,574.9) scale(1.04,1.02)">
<path d="M0.8,36.8 L3.6,33.0 L38.5,33.0 L41.2,36.8 z" fill="#f6f6f0" stroke="#c8c8be" stroke-width="0.4"/>
<rect x="4.8" y="29.6" width="31.2" height="5.6" fill="#a7ab9e"/>
<rect x="4.8" y="33.2" width="31.2" height="2.0" fill="#7f8378"/>
<rect x="5.5" y="11.0" width="32.0" height="5.4" fill="#4d4d4d"/>
<path d="M41.0,11.5 h1.2 a2.5,2.5 0 0 1 0,4.9 h-1.2 z" fill="#3a3a3a"/>
<rect x="1.3" y="2.3" width="2.4" height="33.5" fill="#c4c4c4" stroke="#8e8e8e" stroke-width="0.4"/>
<rect x="38.5" y="2.3" width="2.4" height="33.5" fill="#c4c4c4" stroke="#8e8e8e" stroke-width="0.4"/>
<path d="M5,0 C4,8 4,26 5,35.5 L6,35.5 C7,26 7,8 6,0 z" fill="#c6c6c6" stroke="#8a8a8a" stroke-width="0.4"/>
<path d="M34.2,0 C33.2,8 33.2,26 34.2,35.5 L35.2,35.5 C36.2,26 36.2,8 35.2,0 z" fill="#c6c6c6" stroke="#8a8a8a" stroke-width="0.4"/>
<rect x="10.9" y="0" width="1.4" height="35.5" fill="#c8c8c8" stroke="#909090" stroke-width="0.35"/>
<rect x="16.2" y="0" width="1.4" height="35.5" fill="#c8c8c8" stroke="#909090" stroke-width="0.35"/>
<rect x="22.5" y="0" width="1.4" height="35.5" fill="#c8c8c8" stroke="#909090" stroke-width="0.35"/>
<rect x="28.2" y="0" width="1.4" height="35.5" fill="#c8c8c8" stroke="#909090" stroke-width="0.35"/>
<rect x="0.6" y="36.6" width="40.6" height="9.8" rx="0.8" fill="#ececE6" stroke="#c0c0b6" stroke-width="0.6"/>
<rect x="12.4" y="39.1" width="16.6" height="3.8" fill="#5b6b99"/>
<path d="M17,42.9 L21.5,39.1 L24.5,39.1 L20,42.9 z" fill="#8c9ac0" opacity="0.7"/>
<rect x="7.8" y="39.5" width="3.0" height="0.9" fill="#4c5a88"/>
<rect x="30.6" y="39.5" width="3.0" height="0.9" fill="#4c5a88"/>
<rect x="7.8" y="42.2" width="3.0" height="0.9" fill="#4c5a88"/>
<rect x="30.6" y="42.2" width="3.0" height="0.9" fill="#4c5a88"/>
</g>
<g transform="translate(559.7,593.2) scale(1.15)">
<line x1="-6" y1="-6.6" x2="-6" y2="17.5" stroke="#7c7c7c" stroke-width="1.15" />
<line x1="12.8" y1="-3.5" x2="12.8" y2="20.1" stroke="#7c7c7c" stroke-width="1.15" />
<polygon points="5.44,-7.42 6.95,-7.17 8.4,-6.85 9.78,-6.49 11.08,-6.06 12.28,-5.59 13.38,-5.07 14.37,-4.5 15.24,-3.9 15.98,-3.27 16.59,-2.6 17.06,-1.92 17.38,-1.22 17.56,-0.51 17.59,0.2 17.48,0.92 17.22,1.62 17.22,-7.98 17.48,-8.48 17.59,-9 17.56,-9.51 17.38,-10.02 17.06,-10.52 16.59,-11 15.98,-11.47 15.24,-11.9 14.37,-12.3 13.38,-12.67 12.28,-12.99 11.08,-13.26 9.78,-13.49 8.4,-13.65 6.95,-13.77 5.44,-13.82" fill="#8e8e8e" stroke="#6e6e6e" stroke-width="0.4"/>
<ellipse cx="0" cy="0" rx="17.6" ry="7.8" fill="none" stroke="#bdbdbd" stroke-width="1.7"/>
<line x1="-15.1" y1="4.4" x2="-15.1" y2="28" stroke="#767676" stroke-width="1.15" />
<line x1="7.1" y1="7.9" x2="7.1" y2="32.8" stroke="#767676" stroke-width="1.15" />
<polygon points="-17.6,0 -17.57,-0.44 -17.49,-0.88 -17.35,-1.32 -17.15,-1.75 -16.9,-2.18 -16.59,-2.6 -16.23,-3.02 -15.82,-3.42 -15.82,-12.82 -16.23,-12.42 -16.59,-12 -16.9,-11.58 -17.15,-11.15 -17.35,-10.72 -17.49,-10.28 -17.57,-9.84 -17.6,-9.4" fill="#8c8c8c" stroke="#707070" stroke-width="0.4"/>
<polygon points="-4.26,8.37 -5.66,8.19 -7.02,7.95 -8.33,7.67 -9.59,7.34 -10.78,6.97 -11.89,6.55 -12.92,6.09 -13.87,5.6 -14.72,5.08 -15.47,4.52 -16.11,3.94 -16.64,3.34 -17.06,2.72 -17.36,2.09 -17.54,1.45 -17.6,0.8 -17.6,-9.4 -17.54,-8.75 -17.36,-8.11 -17.06,-7.48 -16.64,-6.86 -16.11,-6.26 -15.47,-5.68 -14.72,-5.12 -13.87,-4.6 -12.92,-4.11 -11.89,-3.65 -10.78,-3.23 -9.59,-2.86 -8.33,-2.53 -7.02,-2.25 -5.66,-2.01 -4.26,-1.83" fill="#b3b3b3" stroke="#7e7e7e" stroke-width="0.4"/>
</g>
<g>
<circle cx="615.8" cy="599.3" r="23.9" stroke="#c4c9cf" fill="#e5e9ee" stroke-width="0.9"/>
<circle cx="615.8" cy="618.18" r="2.24" stroke="#aeb4bb" fill="#ffffff" stroke-width="0.55"/>
<circle cx="622.26" cy="617.04" r="2.24" stroke="#aeb4bb" fill="#ffffff" stroke-width="0.55"/>
<circle cx="627.94" cy="613.76" r="2.24" stroke="#aeb4bb" fill="#ffffff" stroke-width="0.55"/>
<circle cx="634.39" cy="602.58" r="2.24" stroke="#aeb4bb" fill="#ffffff" stroke-width="0.55"/>
<circle cx="634.39" cy="596.02" r="2.24" stroke="#aeb4bb" fill="#ffffff" stroke-width="0.55"/>
<circle cx="632.15" cy="589.86" r="2.24" stroke="#aeb4bb" fill="#ffffff" stroke-width="0.55"/>
<circle cx="627.94" cy="584.84" r="2.24" stroke="#aeb4bb" fill="#ffffff" stroke-width="0.55"/>
<circle cx="622.26" cy="581.56" r="2.24" stroke="#aeb4bb" fill="#ffffff" stroke-width="0.55"/>
<circle cx="615.8" cy="580.42" r="2.24" stroke="#aeb4bb" fill="#ffffff" stroke-width="0.55"/>
<circle cx="609.34" cy="581.56" r="2.24" stroke="#aeb4bb" fill="#ffffff" stroke-width="0.55"/>
<circle cx="603.66" cy="584.84" r="2.24" stroke="#aeb4bb" fill="#ffffff" stroke-width="0.55"/>
<circle cx="599.45" cy="589.86" r="2.24" stroke="#aeb4bb" fill="#ffffff" stroke-width="0.55"/>
<circle cx="597.21" cy="596.02" r="2.24" stroke="#aeb4bb" fill="#ffffff" stroke-width="0.55"/>
<circle cx="597.21" cy="602.58" r="2.24" stroke="#aeb4bb" fill="#ffffff" stroke-width="0.55"/>
<circle cx="599.45" cy="608.74" r="2.24" stroke="#aeb4bb" fill="#ffffff" stroke-width="0.55"/>
<circle cx="603.66" cy="613.76" r="2.24" stroke="#aeb4bb" fill="#ffffff" stroke-width="0.55"/>
<circle cx="609.34" cy="617.04" r="2.24" stroke="#aeb4bb" fill="#ffffff" stroke-width="0.55"/>
<circle cx="632.15" cy="608.74" r="2.44" stroke="#6fd86f" fill="#7ae97a" stroke-width="0.4"/>
<line x1="624.95" y1="605.71" x2="628.51" y2="605.71" stroke="#333" stroke-width="0.7" />
<polyline points="615.8,603.57 615.8,600.11 612.95,597.37 609.09,593.1 607.56,589.23 608.27,585.37 611.02,581.91 612.95,580.38" fill="none" stroke="#707070" stroke-width="0.45" stroke-dasharray="0.8,1.7" stroke-linejoin="round"/>
<polyline points="615.8,597.37 619.16,598.49 623.02,599.71 626.07,596.55 626.89,592.69 626.07,588.11 623.73,584.25 622.21,580.38" fill="none" stroke="#707070" stroke-width="0.45" stroke-dasharray="0.8,1.7" stroke-linejoin="round"/>
<polyline points="612.95,597.37 606.75,599.71 606.04,603.57 607.56,607.44 609.9,610.49 611.43,612.01" fill="none" stroke="#707070" stroke-width="0.45" stroke-dasharray="0.8,1.7" stroke-linejoin="round"/>
<ellipse cx="615.8" cy="608.15" rx="1.22" ry="2.54" fill="#4a3a30"/>
<line x1="615.8" y1="610.69" x2="615.49" y2="614.05" stroke="#c46060" stroke-width="0.4" />
</g>
<text x="167.5" y="730" font-size="16" text-anchor="start" font-weight="normal" font-style="normal" fill="#111" >EPM</text>
<text x="504.9" y="729.2" font-size="16" text-anchor="start" font-weight="normal" font-style="normal" fill="#111" >EZM</text>
<g transform="translate(324.9,724.9) scale(0.98)">
<rect x="-4" y="-24.5" width="8" height="52.7" fill="#eff0f2" stroke="#b8bcc0" stroke-width="0.7"/>
<rect x="-27.5" y="-4.8" width="23.5" height="9.5" fill="#eceef0" stroke="#9da1a6" stroke-width="1.1"/>
<rect x="4" y="-4.8" width="23.5" height="9.5" fill="#eceef0" stroke="#9da1a6" stroke-width="1.1"/>
<rect x="-4.6" y="-4.2" width="9.2" height="8.4" fill="#eff0f2"/>
<line x1="-19" y1="0" x2="-13" y2="0" stroke="#9a9a9a" stroke-width="0.6" />
<line x1="13" y1="0" x2="19" y2="0" stroke="#9a9a9a" stroke-width="0.6" />
<path d="M-0.6,15.5 c-1.4,1.2 -1.5,4.6 -0.5,6.6 c0.9,0.7 2.3,0.3 2.5,-0.7 c-0.6,-1.1 -0.9,-1.7 -0.9,-3.3 c-0.2,-1.7 -0.6,-2.6 -1.1,-2.6 z" fill="#3d2e28"/>
<line x1="0.3" y1="22" x2="0" y2="26" stroke="#c87070" stroke-width="0.4" />
</g>
<g transform="translate(649.6,713) scale(1)">
<line x1="-6" y1="-6.6" x2="-6" y2="17.5" stroke="#7c7c7c" stroke-width="1.15" />
<line x1="12.8" y1="-3.5" x2="12.8" y2="20.1" stroke="#7c7c7c" stroke-width="1.15" />
<polygon points="5.44,-7.42 6.95,-7.17 8.4,-6.85 9.78,-6.49 11.08,-6.06 12.28,-5.59 13.38,-5.07 14.37,-4.5 15.24,-3.9 15.98,-3.27 16.59,-2.6 17.06,-1.92 17.38,-1.22 17.56,-0.51 17.59,0.2 17.48,0.92 17.22,1.62 17.22,-7.98 17.48,-8.48 17.59,-9 17.56,-9.51 17.38,-10.02 17.06,-10.52 16.59,-11 15.98,-11.47 15.24,-11.9 14.37,-12.3 13.38,-12.67 12.28,-12.99 11.08,-13.26 9.78,-13.49 8.4,-13.65 6.95,-13.77 5.44,-13.82" fill="#8e8e8e" stroke="#6e6e6e" stroke-width="0.4"/>
<ellipse cx="0" cy="0" rx="17.6" ry="7.8" fill="none" stroke="#bdbdbd" stroke-width="1.7"/>
<line x1="-15.1" y1="4.4" x2="-15.1" y2="28" stroke="#767676" stroke-width="1.15" />
<line x1="7.1" y1="7.9" x2="7.1" y2="32.8" stroke="#767676" stroke-width="1.15" />
<polygon points="-17.6,0 -17.57,-0.44 -17.49,-0.88 -17.35,-1.32 -17.15,-1.75 -16.9,-2.18 -16.59,-2.6 -16.23,-3.02 -15.82,-3.42 -15.82,-12.82 -16.23,-12.42 -16.59,-12 -16.9,-11.58 -17.15,-11.15 -17.35,-10.72 -17.49,-10.28 -17.57,-9.84 -17.6,-9.4" fill="#8c8c8c" stroke="#707070" stroke-width="0.4"/>
<polygon points="-4.26,8.37 -5.66,8.19 -7.02,7.95 -8.33,7.67 -9.59,7.34 -10.78,6.97 -11.89,6.55 -12.92,6.09 -13.87,5.6 -14.72,5.08 -15.47,4.52 -16.11,3.94 -16.64,3.34 -17.06,2.72 -17.36,2.09 -17.54,1.45 -17.6,0.8 -17.6,-9.4 -17.54,-8.75 -17.36,-8.11 -17.06,-7.48 -16.64,-6.86 -16.11,-6.26 -15.47,-5.68 -14.72,-5.12 -13.87,-4.6 -12.92,-4.11 -11.89,-3.65 -10.78,-3.23 -9.59,-2.86 -8.33,-2.53 -7.02,-2.25 -5.66,-2.01 -4.26,-1.83" fill="#b3b3b3" stroke="#7e7e7e" stroke-width="0.4"/>
</g>
<line x1="93.8" y1="814.7" x2="93.8" y2="825.3" stroke="#7d93b5" stroke-width="1.3" />
<line x1="87.8" y1="814.7" x2="99.8" y2="814.7" stroke="#7d93b5" stroke-width="1.3" />
<line x1="87.8" y1="825.3" x2="99.8" y2="825.3" stroke="#7d93b5" stroke-width="1.3" />
<line x1="141.5" y1="799.3" x2="141.5" y2="807.2" stroke="#f2a2a8" stroke-width="1.3" />
<line x1="135.5" y1="799.3" x2="147.5" y2="799.3" stroke="#f2a2a8" stroke-width="1.3" />
<line x1="135.5" y1="807.2" x2="147.5" y2="807.2" stroke="#f2a2a8" stroke-width="1.3" />
<rect x="79.2" y="821.8" width="29.7" height="47.5" fill="none" stroke="#3b64a3" stroke-width="1.9"/>
<rect x="126.4" y="804.6" width="29.7" height="64.7" fill="none" stroke="#ee6f79" stroke-width="1.9"/>
<line x1="61.6" y1="751.9" x2="61.6" y2="870" stroke="#262626" stroke-width="1.7" />
<line x1="57.4" y1="869.3" x2="173.4" y2="869.3" stroke="#262626" stroke-width="1.8" />
<line x1="56.6" y1="752.6" x2="61.6" y2="752.6" stroke="#262626" stroke-width="1.5" />
<text transform="translate(55.7,755.91) scale(0.87,1)" font-size="9.2" font-weight="bold" text-anchor="end" fill="#1a1a1a">80</text>
<line x1="56.6" y1="781.9" x2="61.6" y2="781.9" stroke="#262626" stroke-width="1.5" />
<text transform="translate(55.7,785.21) scale(0.87,1)" font-size="9.2" font-weight="bold" text-anchor="end" fill="#1a1a1a">60</text>
<line x1="56.6" y1="810.9" x2="61.6" y2="810.9" stroke="#262626" stroke-width="1.5" />
<text transform="translate(55.7,814.21) scale(0.87,1)" font-size="9.2" font-weight="bold" text-anchor="end" fill="#1a1a1a">40</text>
<line x1="56.6" y1="840.2" x2="61.6" y2="840.2" stroke="#262626" stroke-width="1.5" />
<text transform="translate(55.7,843.51) scale(0.87,1)" font-size="9.2" font-weight="bold" text-anchor="end" fill="#1a1a1a">20</text>
<line x1="56.6" y1="869.3" x2="61.6" y2="869.3" stroke="#262626" stroke-width="1.5" />
<text transform="translate(55.7,872.61) scale(0.87,1)" font-size="9.2" font-weight="bold" text-anchor="end" fill="#1a1a1a">0</text>
<line x1="93.8" y1="869.3" x2="93.8" y2="873.1" stroke="#262626" stroke-width="1.4" />
<line x1="141.5" y1="869.3" x2="141.5" y2="873.1" stroke="#262626" stroke-width="1.4" />
<circle cx="100" cy="790.1" r="1.85" stroke="#3e5f96" fill="none" stroke-width="1.3"/>
<polygon points="93.8,791.25 91.55,795.17 96.05,795.17" stroke="#3e5f96" fill="none" stroke-width="1.2" stroke-linejoin="miter"/>
<circle cx="90.6" cy="797.5" r="1.85" stroke="#3e5f96" fill="none" stroke-width="1.3"/>
<polygon points="96.8,795.15 94.55,799.07 99.05,799.07" stroke="#3e5f96" fill="none" stroke-width="1.2" stroke-linejoin="miter"/>
<polygon points="90.6,802.35 88.35,806.27 92.85,806.27" stroke="#3e5f96" fill="none" stroke-width="1.2" stroke-linejoin="miter"/>
<circle cx="96.8" cy="803" r="1.85" stroke="#3e5f96" fill="none" stroke-width="1.3"/>
<circle cx="93.8" cy="809.2" r="1.85" stroke="#3e5f96" fill="none" stroke-width="1.3"/>
<polygon points="87.4,821.05 85.15,824.97 89.65,824.97" stroke="#3e5f96" fill="none" stroke-width="1.2" stroke-linejoin="miter"/>
<polygon points="93.8,818.75 91.55,822.67 96.05,822.67" stroke="#3e5f96" fill="none" stroke-width="1.2" stroke-linejoin="miter"/>
<circle cx="96.8" cy="821.1" r="1.85" stroke="#3e5f96" fill="none" stroke-width="1.3"/>
<polygon points="100,818.75 97.75,822.67 102.25,822.67" stroke="#3e5f96" fill="none" stroke-width="1.2" stroke-linejoin="miter"/>
<circle cx="93.8" cy="829.6" r="1.85" stroke="#3e5f96" fill="none" stroke-width="1.3"/>
<circle cx="90.6" cy="838.2" r="1.85" stroke="#3e5f96" fill="none" stroke-width="1.3"/>
<polygon points="96.8,837.35 94.55,841.27 99.05,841.27" stroke="#3e5f96" fill="none" stroke-width="1.2" stroke-linejoin="miter"/>
<polygon points="100,843.55 97.75,847.47 102.25,847.47" stroke="#3e5f96" fill="none" stroke-width="1.2" stroke-linejoin="miter"/>
<polygon points="93.8,846.05 91.55,849.97 96.05,849.97" stroke="#3e5f96" fill="none" stroke-width="1.2" stroke-linejoin="miter"/>
<polygon points="93.8,856.45 91.55,860.37 96.05,860.37" stroke="#3e5f96" fill="none" stroke-width="1.2" stroke-linejoin="miter"/>
<polygon points="141.5,775.05 139.25,778.97 143.75,778.97" stroke="#ec6f78" fill="none" stroke-width="1.2" stroke-linejoin="miter"/>
<polygon points="137.8,785.05 135.55,788.97 140.05,788.97" stroke="#ec6f78" fill="none" stroke-width="1.2" stroke-linejoin="miter"/>
<circle cx="144" cy="787.4" r="1.85" stroke="#ec6f78" fill="none" stroke-width="1.3"/>
<circle cx="150.7" cy="786.1" r="1.85" stroke="#ec6f78" fill="none" stroke-width="1.3"/>
<polygon points="141.5,791.25 139.25,795.17 143.75,795.17" stroke="#ec6f78" fill="none" stroke-width="1.2" stroke-linejoin="miter"/>
<polygon points="137.8,796.95 135.55,800.87 140.05,800.87" stroke="#ec6f78" fill="none" stroke-width="1.2" stroke-linejoin="miter"/>
<polygon points="147.7,796.95 145.45,800.87 149.95,800.87" stroke="#ec6f78" fill="none" stroke-width="1.2" stroke-linejoin="miter"/>
<polygon points="141.5,806.15 139.25,810.07 143.75,810.07" stroke="#ec6f78" fill="none" stroke-width="1.2" stroke-linejoin="miter"/>
<circle cx="132" cy="816.2" r="1.85" stroke="#ec6f78" fill="none" stroke-width="1.3"/>
<circle cx="137.8" cy="814.9" r="1.85" stroke="#ec6f78" fill="none" stroke-width="1.3"/>
<polygon points="144.7,812.55 142.45,816.47 146.95,816.47" stroke="#ec6f78" fill="none" stroke-width="1.2" stroke-linejoin="miter"/>
<circle cx="150.7" cy="816.2" r="1.85" stroke="#ec6f78" fill="none" stroke-width="1.3"/>
<polygon points="141.5,819.25 139.25,823.17 143.75,823.17" stroke="#ec6f78" fill="none" stroke-width="1.2" stroke-linejoin="miter"/>
<polygon points="141.5,823.45 139.25,827.37 143.75,827.37" stroke="#ec6f78" fill="none" stroke-width="1.2" stroke-linejoin="miter"/>
<line x1="93.8" y1="763.3" x2="141.5" y2="763.3" stroke="#262626" stroke-width="1.6" />
<text x="117.5" y="762.9" font-size="14.3" text-anchor="middle" font-weight="bold" font-style="normal" fill="#1a1a1a" >*</text>
<text x="79.6" y="882.4" font-size="11.3" text-anchor="start" font-weight="normal" font-style="normal" fill="#1a1a1a" >WT</text>
<text x="112.9" y="882.4" font-size="11.3" fill="#1a1a1a">MG-<tspan font-style="italic">Tgfb1</tspan> iKO</text>
<text transform="translate(43.2,811) scale(0.87,1) rotate(-90)" font-size="9.7" font-weight="bold" text-anchor="middle" fill="#1a1a1a">% of distance in open arms</text>
<text x="22.3" y="751.4" font-size="16" text-anchor="start" font-weight="normal" font-style="normal" fill="#111" >J</text>
<line x1="246.2" y1="825.3" x2="246.2" y2="838.5" stroke="#7d93b5" stroke-width="1.3" />
<line x1="240.2" y1="825.3" x2="252.2" y2="825.3" stroke="#7d93b5" stroke-width="1.3" />
<line x1="240.2" y1="838.5" x2="252.2" y2="838.5" stroke="#7d93b5" stroke-width="1.3" />
<line x1="293.6" y1="800" x2="293.6" y2="813.4" stroke="#f2a2a8" stroke-width="1.3" />
<line x1="287.6" y1="800" x2="299.6" y2="800" stroke="#f2a2a8" stroke-width="1.3" />
<line x1="287.6" y1="813.4" x2="299.6" y2="813.4" stroke="#f2a2a8" stroke-width="1.3" />
<rect x="231.1" y="833.7" width="29.8" height="35.1" fill="none" stroke="#3b64a3" stroke-width="1.9"/>
<rect x="278.8" y="808.1" width="29.4" height="60.7" fill="none" stroke="#ee6f79" stroke-width="1.9"/>
<line x1="214.2" y1="751.9" x2="214.2" y2="869.5" stroke="#262626" stroke-width="1.7" />
<line x1="210" y1="868.8" x2="325.1" y2="868.8" stroke="#262626" stroke-width="1.8" />
<line x1="209.2" y1="752.6" x2="214.2" y2="752.6" stroke="#262626" stroke-width="1.5" />
<text transform="translate(208.3,755.91) scale(0.87,1)" font-size="9.2" font-weight="bold" text-anchor="end" fill="#1a1a1a">80</text>
<line x1="209.2" y1="781.6" x2="214.2" y2="781.6" stroke="#262626" stroke-width="1.5" />
<text transform="translate(208.3,784.91) scale(0.87,1)" font-size="9.2" font-weight="bold" text-anchor="end" fill="#1a1a1a">60</text>
<line x1="209.2" y1="810.7" x2="214.2" y2="810.7" stroke="#262626" stroke-width="1.5" />
<text transform="translate(208.3,814.01) scale(0.87,1)" font-size="9.2" font-weight="bold" text-anchor="end" fill="#1a1a1a">40</text>
<line x1="209.2" y1="839.7" x2="214.2" y2="839.7" stroke="#262626" stroke-width="1.5" />
<text transform="translate(208.3,843.01) scale(0.87,1)" font-size="9.2" font-weight="bold" text-anchor="end" fill="#1a1a1a">20</text>
<line x1="209.2" y1="868.8" x2="214.2" y2="868.8" stroke="#262626" stroke-width="1.5" />
<text transform="translate(208.3,872.11) scale(0.87,1)" font-size="9.2" font-weight="bold" text-anchor="end" fill="#1a1a1a">0</text>
<line x1="246.2" y1="868.8" x2="246.2" y2="872.6" stroke="#262626" stroke-width="1.4" />
<line x1="293.6" y1="868.8" x2="293.6" y2="872.6" stroke="#262626" stroke-width="1.4" />
<circle cx="246.2" cy="784.4" r="1.85" stroke="#3e5f96" fill="none" stroke-width="1.3"/>
<polygon points="246.2,788.95 243.95,792.87 248.45,792.87" stroke="#3e5f96" fill="none" stroke-width="1.2" stroke-linejoin="miter"/>
<circle cx="246.2" cy="797.3" r="1.85" stroke="#3e5f96" fill="none" stroke-width="1.3"/>
<circle cx="243.2" cy="804.7" r="1.85" stroke="#3e5f96" fill="none" stroke-width="1.3"/>
<polygon points="249.4,800.65 247.15,804.57 251.65,804.57" stroke="#3e5f96" fill="none" stroke-width="1.2" stroke-linejoin="miter"/>
<polygon points="246.2,831.65 243.95,835.57 248.45,835.57" stroke="#3e5f96" fill="none" stroke-width="1.2" stroke-linejoin="miter"/>
<polygon points="243.2,839.15 240.95,843.07 245.45,843.07" stroke="#3e5f96" fill="none" stroke-width="1.2" stroke-linejoin="miter"/>
<polygon points="249.4,839.15 247.15,843.07 251.65,843.07" stroke="#3e5f96" fill="none" stroke-width="1.2" stroke-linejoin="miter"/>
<polygon points="236.5,844.85 234.25,848.77 238.75,848.77" stroke="#3e5f96" fill="none" stroke-width="1.2" stroke-linejoin="miter"/>
<polygon points="243.2,844.05 240.95,847.97 245.45,847.97" stroke="#3e5f96" fill="none" stroke-width="1.2" stroke-linejoin="miter"/>
<circle cx="249.4" cy="847.2" r="1.85" stroke="#3e5f96" fill="none" stroke-width="1.3"/>
<polygon points="255.6,844.85 253.35,848.77 257.85,848.77" stroke="#3e5f96" fill="none" stroke-width="1.2" stroke-linejoin="miter"/>
<circle cx="243.2" cy="854.4" r="1.85" stroke="#3e5f96" fill="none" stroke-width="1.3"/>
<circle cx="249.4" cy="852.6" r="1.85" stroke="#3e5f96" fill="none" stroke-width="1.3"/>
<polygon points="243.2,858.95 240.95,862.87 245.45,862.87" stroke="#3e5f96" fill="none" stroke-width="1.2" stroke-linejoin="miter"/>
<polygon points="249.4,857.75 247.15,861.67 251.65,861.67" stroke="#3e5f96" fill="none" stroke-width="1.2" stroke-linejoin="miter"/>
<polygon points="290.4,762.65 288.15,766.57 292.65,766.57" stroke="#ec6f78" fill="none" stroke-width="1.2" stroke-linejoin="miter"/>
<polygon points="297.1,759.65 294.85,763.57 299.35,763.57" stroke="#ec6f78" fill="none" stroke-width="1.2" stroke-linejoin="miter"/>
<circle cx="293.6" cy="774" r="1.85" stroke="#ec6f78" fill="none" stroke-width="1.3"/>
<polygon points="293.6,784.55 291.35,788.47 295.85,788.47" stroke="#ec6f78" fill="none" stroke-width="1.2" stroke-linejoin="miter"/>
<circle cx="293.6" cy="793.1" r="1.85" stroke="#ec6f78" fill="none" stroke-width="1.3"/>
<polygon points="293.6,796.45 291.35,800.37 295.85,800.37" stroke="#ec6f78" fill="none" stroke-width="1.2" stroke-linejoin="miter"/>
<circle cx="293.6" cy="804.2" r="1.85" stroke="#ec6f78" fill="none" stroke-width="1.3"/>
<polygon points="290.4,813.05 288.15,816.97 292.65,816.97" stroke="#ec6f78" fill="none" stroke-width="1.2" stroke-linejoin="miter"/>
<polygon points="293.6,814.75 291.35,818.67 295.85,818.67" stroke="#ec6f78" fill="none" stroke-width="1.2" stroke-linejoin="miter"/>
<circle cx="297.1" cy="814.7" r="1.85" stroke="#ec6f78" fill="none" stroke-width="1.3"/>
<circle cx="297.1" cy="819.1" r="1.85" stroke="#ec6f78" fill="none" stroke-width="1.3"/>
<polygon points="290.4,822.95 288.15,826.87 292.65,826.87" stroke="#ec6f78" fill="none" stroke-width="1.2" stroke-linejoin="miter"/>
<circle cx="297.1" cy="825.3" r="1.85" stroke="#ec6f78" fill="none" stroke-width="1.3"/>
<polygon points="293.6,831.65 291.35,835.57 295.85,835.57" stroke="#ec6f78" fill="none" stroke-width="1.2" stroke-linejoin="miter"/>
<polygon points="293.6,836.65 291.35,840.57 295.85,840.57" stroke="#ec6f78" fill="none" stroke-width="1.2" stroke-linejoin="miter"/>
<polygon points="293.6,841.15 291.35,845.07 295.85,845.07" stroke="#ec6f78" fill="none" stroke-width="1.2" stroke-linejoin="miter"/>
<line x1="246.2" y1="748.4" x2="293.6" y2="748.4" stroke="#262626" stroke-width="1.6" />
<text x="270.3" y="748" font-size="14.3" text-anchor="middle" font-weight="bold" font-style="normal" fill="#1a1a1a" >*</text>
<text x="231.8" y="882.4" font-size="11.3" text-anchor="start" font-weight="normal" font-style="normal" fill="#1a1a1a" >WT</text>
<text x="266.3" y="882.4" font-size="11.3" fill="#1a1a1a">MG-<tspan font-style="italic">Tgfb1</tspan> iKO</text>
<text transform="translate(195.8,810.5) scale(0.87,1) rotate(-90)" font-size="9.7" font-weight="bold" text-anchor="middle" fill="#1a1a1a">% of time in open arms</text>
<text x="174.6" y="751.6" font-size="16" text-anchor="start" font-weight="normal" font-style="normal" fill="#111" >K</text>
<line x1="427.6" y1="822.4" x2="427.6" y2="833.5" stroke="#7d93b5" stroke-width="1.3" />
<line x1="421.6" y1="822.4" x2="433.6" y2="822.4" stroke="#7d93b5" stroke-width="1.3" />
<line x1="421.6" y1="833.5" x2="433.6" y2="833.5" stroke="#7d93b5" stroke-width="1.3" />
<line x1="475.3" y1="797.5" x2="475.3" y2="803" stroke="#f2a2a8" stroke-width="1.3" />
<line x1="469.3" y1="797.5" x2="481.3" y2="797.5" stroke="#f2a2a8" stroke-width="1.3" />
<line x1="469.3" y1="803" x2="481.3" y2="803" stroke="#f2a2a8" stroke-width="1.3" />
<rect x="413" y="829.5" width="29.7" height="38.8" fill="none" stroke="#3b64a3" stroke-width="1.9"/>
<rect x="460.7" y="800.9" width="29.7" height="67.4" fill="none" stroke="#ee6f79" stroke-width="1.9"/>
<line x1="396.6" y1="749.9" x2="396.6" y2="869" stroke="#262626" stroke-width="1.7" />
<line x1="392.4" y1="868.3" x2="507.8" y2="868.3" stroke="#262626" stroke-width="1.8" />
<line x1="391.6" y1="750.6" x2="396.6" y2="750.6" stroke="#262626" stroke-width="1.5" />
<text transform="translate(390.7,753.91) scale(0.87,1)" font-size="9.2" font-weight="bold" text-anchor="end" fill="#1a1a1a">80</text>
<line x1="391.6" y1="779.9" x2="396.6" y2="779.9" stroke="#262626" stroke-width="1.5" />
<text transform="translate(390.7,783.21) scale(0.87,1)" font-size="9.2" font-weight="bold" text-anchor="end" fill="#1a1a1a">60</text>
<line x1="391.6" y1="809.2" x2="396.6" y2="809.2" stroke="#262626" stroke-width="1.5" />
<text transform="translate(390.7,812.51) scale(0.87,1)" font-size="9.2" font-weight="bold" text-anchor="end" fill="#1a1a1a">40</text>
<line x1="391.6" y1="839" x2="396.6" y2="839" stroke="#262626" stroke-width="1.5" />
<text transform="translate(390.7,842.31) scale(0.87,1)" font-size="9.2" font-weight="bold" text-anchor="end" fill="#1a1a1a">20</text>
<line x1="391.6" y1="868.3" x2="396.6" y2="868.3" stroke="#262626" stroke-width="1.5" />
<text transform="translate(390.7,871.61) scale(0.87,1)" font-size="9.2" font-weight="bold" text-anchor="end" fill="#1a1a1a">0</text>
<line x1="427.6" y1="868.3" x2="427.6" y2="872.1" stroke="#262626" stroke-width="1.4" />
<line x1="475.3" y1="868.3" x2="475.3" y2="872.1" stroke="#262626" stroke-width="1.4" />
<circle cx="427.6" cy="784.4" r="1.85" stroke="#3e5f96" fill="none" stroke-width="1.3"/>
<polygon points="427.6,796.95 425.35,800.87 429.85,800.87" stroke="#3e5f96" fill="none" stroke-width="1.2" stroke-linejoin="miter"/>
<polygon points="427.6,801.35 425.35,805.27 429.85,805.27" stroke="#3e5f96" fill="none" stroke-width="1.2" stroke-linejoin="miter"/>
<circle cx="427.6" cy="814.9" r="1.85" stroke="#3e5f96" fill="none" stroke-width="1.3"/>
<circle cx="424.4" cy="819.9" r="1.85" stroke="#3e5f96" fill="none" stroke-width="1.3"/>
<polygon points="430.6,817.55 428.35,821.47 432.85,821.47" stroke="#3e5f96" fill="none" stroke-width="1.2" stroke-linejoin="miter"/>
<polygon points="424.4,822.45 422.15,826.37 426.65,826.37" stroke="#3e5f96" fill="none" stroke-width="1.2" stroke-linejoin="miter"/>
<polygon points="427.6,825.45 425.35,829.37 429.85,829.37" stroke="#3e5f96" fill="none" stroke-width="1.2" stroke-linejoin="miter"/>
<circle cx="430.6" cy="828.6" r="1.85" stroke="#3e5f96" fill="none" stroke-width="1.3"/>
<polygon points="418.2,829.15 415.95,833.07 420.45,833.07" stroke="#3e5f96" fill="none" stroke-width="1.2" stroke-linejoin="miter"/>
<polygon points="424.4,828.45 422.15,832.37 426.65,832.37" stroke="#3e5f96" fill="none" stroke-width="1.2" stroke-linejoin="miter"/>
<polygon points="436.8,827.95 434.55,831.87 439.05,831.87" stroke="#3e5f96" fill="none" stroke-width="1.2" stroke-linejoin="miter"/>
<polygon points="418.2,842.35 415.95,846.27 420.45,846.27" stroke="#3e5f96" fill="none" stroke-width="1.2" stroke-linejoin="miter"/>
<polygon points="424.4,845.85 422.15,849.77 426.65,849.77" stroke="#3e5f96" fill="none" stroke-width="1.2" stroke-linejoin="miter"/>
<circle cx="430.6" cy="848.2" r="1.85" stroke="#3e5f96" fill="none" stroke-width="1.3"/>
<polygon points="424.4,858.95 422.15,862.87 426.65,862.87" stroke="#3e5f96" fill="none" stroke-width="1.2" stroke-linejoin="miter"/>
<polygon points="430.6,855.75 428.35,859.67 432.85,859.67" stroke="#3e5f96" fill="none" stroke-width="1.2" stroke-linejoin="miter"/>
<circle cx="475.3" cy="779.9" r="1.85" stroke="#ec6f78" fill="none" stroke-width="1.3"/>
<circle cx="462.9" cy="793.6" r="1.85" stroke="#ec6f78" fill="none" stroke-width="1.3"/>
<circle cx="469.1" cy="793.6" r="1.85" stroke="#ec6f78" fill="none" stroke-width="1.3"/>
<polygon points="475.3,791.95 473.05,795.87 477.55,795.87" stroke="#ec6f78" fill="none" stroke-width="1.2" stroke-linejoin="miter"/>
<polygon points="481.5,791.25 479.25,795.17 483.75,795.17" stroke="#ec6f78" fill="none" stroke-width="1.2" stroke-linejoin="miter"/>
<polygon points="488.2,789.45 485.95,793.37 490.45,793.37" stroke="#ec6f78" fill="none" stroke-width="1.2" stroke-linejoin="miter"/>
<circle cx="481.5" cy="801.8" r="1.85" stroke="#ec6f78" fill="none" stroke-width="1.3"/>
<polygon points="475.3,801.35 473.05,805.27 477.55,805.27" stroke="#ec6f78" fill="none" stroke-width="1.2" stroke-linejoin="miter"/>
<circle cx="475.3" cy="816.7" r="1.85" stroke="#ec6f78" fill="none" stroke-width="1.3"/>
<polygon points="475.3,824.95 473.05,828.87 477.55,828.87" stroke="#ec6f78" fill="none" stroke-width="1.2" stroke-linejoin="miter"/>
<line x1="427.6" y1="765.8" x2="475.3" y2="765.8" stroke="#262626" stroke-width="1.6" />
<text x="452" y="765.4" font-size="14.3" text-anchor="middle" font-weight="bold" font-style="normal" fill="#1a1a1a" >***</text>
<text x="417.5" y="882.4" font-size="11.3" text-anchor="start" font-weight="normal" font-style="normal" fill="#1a1a1a" >WT</text>
<text x="445.5" y="882.4" font-size="11.3" fill="#1a1a1a">MG-<tspan font-style="italic">Tgfb1</tspan> iKO</text>
<text transform="translate(377,808.6) scale(0.87,1) rotate(-90)" font-size="9.7" font-weight="bold" text-anchor="middle" fill="#1a1a1a">% of distance in open arms</text>
<text x="355.7" y="751.6" font-size="16" text-anchor="start" font-weight="normal" font-style="normal" fill="#111" >L</text>
<line x1="581" y1="826.4" x2="581" y2="834.2" stroke="#7d93b5" stroke-width="1.3" />
<line x1="575" y1="826.4" x2="587" y2="826.4" stroke="#7d93b5" stroke-width="1.3" />
<line x1="575" y1="834.2" x2="587" y2="834.2" stroke="#7d93b5" stroke-width="1.3" />
<line x1="629.6" y1="785.9" x2="629.6" y2="799.4" stroke="#f2a2a8" stroke-width="1.3" />
<line x1="623.6" y1="785.9" x2="635.6" y2="785.9" stroke="#f2a2a8" stroke-width="1.3" />
<line x1="623.6" y1="799.4" x2="635.6" y2="799.4" stroke="#f2a2a8" stroke-width="1.3" />
<rect x="565.7" y="831.9" width="30.4" height="36.9" fill="none" stroke="#3b64a3" stroke-width="1.9"/>
<rect x="614.5" y="793.5" width="30.5" height="75.3" fill="none" stroke="#ee6f79" stroke-width="1.9"/>
<line x1="549.1" y1="750.6" x2="549.1" y2="869.5" stroke="#262626" stroke-width="1.7" />
<line x1="544.9" y1="868.8" x2="662" y2="868.8" stroke="#262626" stroke-width="1.8" />
<line x1="544.1" y1="751.3" x2="549.1" y2="751.3" stroke="#262626" stroke-width="1.5" />
<text transform="translate(543.2,754.61) scale(0.87,1)" font-size="9.2" font-weight="bold" text-anchor="end" fill="#1a1a1a">80</text>
<line x1="544.1" y1="781" x2="549.1" y2="781" stroke="#262626" stroke-width="1.5" />
<text transform="translate(543.2,784.31) scale(0.87,1)" font-size="9.2" font-weight="bold" text-anchor="end" fill="#1a1a1a">60</text>
<line x1="544.1" y1="810.2" x2="549.1" y2="810.2" stroke="#262626" stroke-width="1.5" />
<text transform="translate(543.2,813.51) scale(0.87,1)" font-size="9.2" font-weight="bold" text-anchor="end" fill="#1a1a1a">40</text>
<line x1="544.1" y1="839.6" x2="549.1" y2="839.6" stroke="#262626" stroke-width="1.5" />
<text transform="translate(543.2,842.91) scale(0.87,1)" font-size="9.2" font-weight="bold" text-anchor="end" fill="#1a1a1a">20</text>
<line x1="544.1" y1="868.8" x2="549.1" y2="868.8" stroke="#262626" stroke-width="1.5" />
<text transform="translate(543.2,872.11) scale(0.87,1)" font-size="9.2" font-weight="bold" text-anchor="end" fill="#1a1a1a">0</text>
<line x1="581" y1="868.8" x2="581" y2="872.6" stroke="#262626" stroke-width="1.4" />
<line x1="629.6" y1="868.8" x2="629.6" y2="872.6" stroke="#262626" stroke-width="1.4" />
<polygon points="581,792.15 578.75,796.07 583.25,796.07" stroke="#3e5f96" fill="none" stroke-width="1.2" stroke-linejoin="miter"/>
<circle cx="577.8" cy="809.9" r="1.85" stroke="#3e5f96" fill="none" stroke-width="1.3"/>
<polygon points="584.5,806.45 582.25,810.37 586.75,810.37" stroke="#3e5f96" fill="none" stroke-width="1.2" stroke-linejoin="miter"/>
<polygon points="581,816.45 578.75,820.37 583.25,820.37" stroke="#3e5f96" fill="none" stroke-width="1.2" stroke-linejoin="miter"/>
<circle cx="577.8" cy="824.2" r="1.85" stroke="#3e5f96" fill="none" stroke-width="1.3"/>
<polygon points="581,825.15 578.75,829.07 583.25,829.07" stroke="#3e5f96" fill="none" stroke-width="1.2" stroke-linejoin="miter"/>
<polygon points="584.5,821.85 582.25,825.77 586.75,825.77" stroke="#3e5f96" fill="none" stroke-width="1.2" stroke-linejoin="miter"/>
<circle cx="581" cy="833.1" r="1.85" stroke="#3e5f96" fill="none" stroke-width="1.3"/>
<polygon points="574.3,835.35 572.05,839.27 576.55,839.27" stroke="#3e5f96" fill="none" stroke-width="1.2" stroke-linejoin="miter"/>
<circle cx="581" cy="837.7" r="1.85" stroke="#3e5f96" fill="none" stroke-width="1.3"/>
<circle cx="587.8" cy="837.7" r="1.85" stroke="#3e5f96" fill="none" stroke-width="1.3"/>
<polygon points="577.8,839.95 575.55,843.87 580.05,843.87" stroke="#3e5f96" fill="none" stroke-width="1.2" stroke-linejoin="miter"/>
<circle cx="587.8" cy="842.3" r="1.85" stroke="#3e5f96" fill="none" stroke-width="1.3"/>
<polygon points="574.3,846.95 572.05,850.87 576.55,850.87" stroke="#3e5f96" fill="none" stroke-width="1.2" stroke-linejoin="miter"/>
<polygon points="584.5,846.95 582.25,850.87 586.75,850.87" stroke="#3e5f96" fill="none" stroke-width="1.2" stroke-linejoin="miter"/>
<circle cx="629.6" cy="763.5" r="1.85" stroke="#ec6f78" fill="none" stroke-width="1.3"/>
<circle cx="629.6" cy="770.8" r="1.85" stroke="#ec6f78" fill="none" stroke-width="1.3"/>
<polygon points="626.1,776.75 623.85,780.67 628.35,780.67" stroke="#ec6f78" fill="none" stroke-width="1.2" stroke-linejoin="miter"/>
<circle cx="633.1" cy="775.6" r="1.85" stroke="#ec6f78" fill="none" stroke-width="1.3"/>
<polygon points="633.1,778.65 630.85,782.57 635.35,782.57" stroke="#ec6f78" fill="none" stroke-width="1.2" stroke-linejoin="miter"/>
<circle cx="626.1" cy="796.4" r="1.85" stroke="#ec6f78" fill="none" stroke-width="1.3"/>
<polygon points="633.1,793.55 630.85,797.47 635.35,797.47" stroke="#ec6f78" fill="none" stroke-width="1.2" stroke-linejoin="miter"/>
<polygon points="629.6,799.75 627.35,803.67 631.85,803.67" stroke="#ec6f78" fill="none" stroke-width="1.2" stroke-linejoin="miter"/>
<circle cx="629.6" cy="817.5" r="1.85" stroke="#ec6f78" fill="none" stroke-width="1.3"/>
<polygon points="629.6,829.95 627.35,833.87 631.85,833.87" stroke="#ec6f78" fill="none" stroke-width="1.2" stroke-linejoin="miter"/>
<line x1="581" y1="749.4" x2="629.6" y2="749.4" stroke="#262626" stroke-width="1.6" />
<text x="605.6" y="749" font-size="14.3" text-anchor="middle" font-weight="bold" font-style="normal" fill="#1a1a1a" >****</text>
<text x="570.6" y="881.8" font-size="11.3" text-anchor="start" font-weight="normal" font-style="normal" fill="#1a1a1a" >WT</text>
<text x="597.8" y="881.8" font-size="11.3" fill="#1a1a1a">MG-<tspan font-style="italic">Tgfb1</tspan> iKO</text>
<text transform="translate(530.5,810.7) scale(0.87,1) rotate(-90)" font-size="9.7" font-weight="bold" text-anchor="middle" fill="#1a1a1a">% of time in open arms</text>
<text x="506.4" y="751.3" font-size="16" text-anchor="start" font-weight="normal" font-style="normal" fill="#111" >M</text>
<g>
<circle cx="52.9" cy="923" r="25" stroke="#c4c9cf" fill="#e5e9ee" stroke-width="0.9"/>
<circle cx="52.9" cy="942.75" r="2.34" stroke="#aeb4bb" fill="#ffffff" stroke-width="0.55"/>
<circle cx="59.65" cy="941.56" r="2.34" stroke="#aeb4bb" fill="#ffffff" stroke-width="0.55"/>
<circle cx="65.6" cy="938.13" r="2.34" stroke="#aeb4bb" fill="#ffffff" stroke-width="0.55"/>
<circle cx="72.35" cy="926.43" r="2.34" stroke="#aeb4bb" fill="#ffffff" stroke-width="0.55"/>
<circle cx="72.35" cy="919.57" r="2.34" stroke="#aeb4bb" fill="#ffffff" stroke-width="0.55"/>
<circle cx="70" cy="913.12" r="2.34" stroke="#aeb4bb" fill="#ffffff" stroke-width="0.55"/>
<circle cx="65.6" cy="907.87" r="2.34" stroke="#aeb4bb" fill="#ffffff" stroke-width="0.55"/>
<circle cx="59.65" cy="904.44" r="2.34" stroke="#aeb4bb" fill="#ffffff" stroke-width="0.55"/>
<circle cx="52.9" cy="903.25" r="2.34" stroke="#aeb4bb" fill="#ffffff" stroke-width="0.55"/>
<circle cx="46.15" cy="904.44" r="2.34" stroke="#aeb4bb" fill="#ffffff" stroke-width="0.55"/>
<circle cx="40.2" cy="907.87" r="2.34" stroke="#aeb4bb" fill="#ffffff" stroke-width="0.55"/>
<circle cx="35.8" cy="913.12" r="2.34" stroke="#aeb4bb" fill="#ffffff" stroke-width="0.55"/>
<circle cx="33.45" cy="919.57" r="2.34" stroke="#aeb4bb" fill="#ffffff" stroke-width="0.55"/>
<circle cx="33.45" cy="926.43" r="2.34" stroke="#aeb4bb" fill="#ffffff" stroke-width="0.55"/>
<circle cx="35.8" cy="932.88" r="2.34" stroke="#aeb4bb" fill="#ffffff" stroke-width="0.55"/>
<circle cx="40.2" cy="938.13" r="2.34" stroke="#aeb4bb" fill="#ffffff" stroke-width="0.55"/>
<circle cx="46.15" cy="941.56" r="2.34" stroke="#aeb4bb" fill="#ffffff" stroke-width="0.55"/>
<circle cx="70" cy="932.88" r="2.55" stroke="#6fd86f" fill="#7ae97a" stroke-width="0.4"/>
<line x1="62.47" y1="929.7" x2="66.2" y2="929.7" stroke="#333" stroke-width="0.7" />
<polyline points="52.9,927.47 52.9,923.85 49.92,920.98 45.88,916.51 44.28,912.47 45.03,908.43 47.9,904.81 49.92,903.21" fill="none" stroke="#707070" stroke-width="0.45" stroke-dasharray="0.8,1.7" stroke-linejoin="round"/>
<polyline points="52.9,920.98 56.41,922.15 60.45,923.43 63.64,920.13 64.5,916.09 63.64,911.3 61.2,907.26 59.6,903.21" fill="none" stroke="#707070" stroke-width="0.45" stroke-dasharray="0.8,1.7" stroke-linejoin="round"/>
<polyline points="49.92,920.98 43.43,923.43 42.69,927.47 44.28,931.51 46.73,934.7 48.33,936.3" fill="none" stroke="#707070" stroke-width="0.45" stroke-dasharray="0.8,1.7" stroke-linejoin="round"/>
<ellipse cx="52.9" cy="932.26" rx="1.28" ry="2.66" fill="#4a3a30"/>
<line x1="52.9" y1="934.91" x2="52.58" y2="938.43" stroke="#c46060" stroke-width="0.4" />
</g>
<text x="145.6" y="926.5" font-size="16" text-anchor="start" font-weight="normal" font-style="normal" fill="#111" >Barnes Maze</text>
<text x="81.6" y="950.7" font-size="16" text-anchor="start" font-weight="normal" font-style="normal" fill="#111" >5 weeks</text>
<text x="257.5" y="950.4" font-size="16" text-anchor="start" font-weight="normal" font-style="normal" fill="#111" >12 weeks</text>
<line x1="91.4" y1="1067.4" x2="91.4" y2="1085.3" stroke="#a6b9d2" stroke-width="1.3" />
<line x1="83.4" y1="1067.4" x2="99.4" y2="1067.4" stroke="#a6b9d2" stroke-width="1.3" />
<line x1="83.4" y1="1085.3" x2="99.4" y2="1085.3" stroke="#a6b9d2" stroke-width="1.3" />
<line x1="144.5" y1="1034.3" x2="144.5" y2="1084.8" stroke="#f2a2a8" stroke-width="1.3" />
<line x1="136.5" y1="1034.3" x2="152.5" y2="1034.3" stroke="#f2a2a8" stroke-width="1.3" />
<line x1="136.5" y1="1084.8" x2="152.5" y2="1084.8" stroke="#f2a2a8" stroke-width="1.3" />
<rect x="75.2" y="1077.3" width="32.4" height="10.4" fill="none" stroke="#3b64a3" stroke-width="1.9"/>
<rect x="128.3" y="1061.3" width="31.8" height="26.4" fill="none" stroke="#ee6f79" stroke-width="1.9"/>
<line x1="55.7" y1="970.3" x2="55.7" y2="1088.4" stroke="#262626" stroke-width="1.7" />
<line x1="51.5" y1="1087.7" x2="180.2" y2="1087.7" stroke="#262626" stroke-width="1.8" />
<line x1="50.7" y1="971" x2="55.7" y2="971" stroke="#262626" stroke-width="1.5" />
<text transform="translate(49.8,974.31) scale(0.87,1)" font-size="9.2" font-weight="bold" text-anchor="end" fill="#1a1a1a">1000</text>
<line x1="50.7" y1="994.7" x2="55.7" y2="994.7" stroke="#262626" stroke-width="1.5" />
<text transform="translate(49.8,998.01) scale(0.87,1)" font-size="9.2" font-weight="bold" text-anchor="end" fill="#1a1a1a">800</text>
<line x1="50.7" y1="1017.8" x2="55.7" y2="1017.8" stroke="#262626" stroke-width="1.5" />
<text transform="translate(49.8,1021.11) scale(0.87,1)" font-size="9.2" font-weight="bold" text-anchor="end" fill="#1a1a1a">600</text>
<line x1="50.7" y1="1041.2" x2="55.7" y2="1041.2" stroke="#262626" stroke-width="1.5" />
<text transform="translate(49.8,1044.51) scale(0.87,1)" font-size="9.2" font-weight="bold" text-anchor="end" fill="#1a1a1a">400</text>
<line x1="50.7" y1="1064.6" x2="55.7" y2="1064.6" stroke="#262626" stroke-width="1.5" />
<text transform="translate(49.8,1067.91) scale(0.87,1)" font-size="9.2" font-weight="bold" text-anchor="end" fill="#1a1a1a">200</text>
<line x1="50.7" y1="1087.7" x2="55.7" y2="1087.7" stroke="#262626" stroke-width="1.5" />
<text transform="translate(49.8,1091.01) scale(0.87,1)" font-size="9.2" font-weight="bold" text-anchor="end" fill="#1a1a1a">0</text>
<line x1="91.4" y1="1087.7" x2="91.4" y2="1091.5" stroke="#262626" stroke-width="1.4" />
<line x1="144.5" y1="1087.7" x2="144.5" y2="1091.5" stroke="#262626" stroke-width="1.4" />
<polygon points="91.4,1054.65 89.15,1058.57 93.65,1058.57" stroke="#3e5f96" fill="none" stroke-width="1.2" stroke-linejoin="miter"/>
<circle cx="91.4" cy="1060.9" r="1.85" stroke="#3e5f96" fill="none" stroke-width="1.3"/>
<circle cx="91.4" cy="1067.4" r="1.85" stroke="#3e5f96" fill="none" stroke-width="1.3"/>
<polygon points="84.6,1069.05 82.35,1072.97 86.85,1072.97" stroke="#3e5f96" fill="none" stroke-width="1.2" stroke-linejoin="miter"/>
<circle cx="91.4" cy="1070.9" r="1.85" stroke="#3e5f96" fill="none" stroke-width="1.3"/>
<polygon points="98.5,1069.85 96.25,1073.77 100.75,1073.77" stroke="#3e5f96" fill="none" stroke-width="1.2" stroke-linejoin="miter"/>
<circle cx="105.6" cy="1070.9" r="1.85" stroke="#3e5f96" fill="none" stroke-width="1.3"/>
<circle cx="77.5" cy="1079.3" r="1.85" stroke="#3e5f96" fill="none" stroke-width="1.3"/>
<polygon points="84.6,1080.35 82.35,1084.27 86.85,1084.27" stroke="#3e5f96" fill="none" stroke-width="1.2" stroke-linejoin="miter"/>
<circle cx="91.4" cy="1080" r="1.85" stroke="#3e5f96" fill="none" stroke-width="1.3"/>
<polygon points="98.5,1078.25 96.25,1082.17 100.75,1082.17" stroke="#3e5f96" fill="none" stroke-width="1.2" stroke-linejoin="miter"/>
<polygon points="105.6,1076.95 103.35,1080.87 107.85,1080.87" stroke="#3e5f96" fill="none" stroke-width="1.2" stroke-linejoin="miter"/>
<circle cx="77.5" cy="1086.1" r="1.85" stroke="#3e5f96" fill="none" stroke-width="1.3"/>
<polygon points="91.4,1082.95 89.15,1086.87 93.65,1086.87" stroke="#3e5f96" fill="none" stroke-width="1.2" stroke-linejoin="miter"/>
<circle cx="98.5" cy="1085.3" r="1.85" stroke="#3e5f96" fill="none" stroke-width="1.3"/>
<circle cx="105.6" cy="1086.1" r="1.85" stroke="#3e5f96" fill="none" stroke-width="1.3"/>
<polygon points="144.5,993.65 142.25,997.57 146.75,997.57" stroke="#ec6f78" fill="none" stroke-width="1.2" stroke-linejoin="miter"/>
<polygon points="141.1,1026.95 138.85,1030.87 143.35,1030.87" stroke="#ec6f78" fill="none" stroke-width="1.2" stroke-linejoin="miter"/>
<polygon points="147.9,1026.95 145.65,1030.87 150.15,1030.87" stroke="#ec6f78" fill="none" stroke-width="1.2" stroke-linejoin="miter"/>
<polygon points="137.2,1061.95 134.95,1065.87 139.45,1065.87" stroke="#ec6f78" fill="none" stroke-width="1.2" stroke-linejoin="miter"/>
<polygon points="144.5,1061.95 142.25,1065.87 146.75,1065.87" stroke="#ec6f78" fill="none" stroke-width="1.2" stroke-linejoin="miter"/>
<polygon points="158.4,1065.05 156.15,1068.97 160.65,1068.97" stroke="#ec6f78" fill="none" stroke-width="1.2" stroke-linejoin="miter"/>
<circle cx="130.1" cy="1072.2" r="1.85" stroke="#ec6f78" fill="none" stroke-width="1.3"/>
<circle cx="137.2" cy="1070.9" r="1.85" stroke="#ec6f78" fill="none" stroke-width="1.3"/>
<circle cx="144.5" cy="1073.5" r="1.85" stroke="#ec6f78" fill="none" stroke-width="1.3"/>
<circle cx="151.6" cy="1071.4" r="1.85" stroke="#ec6f78" fill="none" stroke-width="1.3"/>
<polygon points="158.4,1071.15 156.15,1075.07 160.65,1075.07" stroke="#ec6f78" fill="none" stroke-width="1.2" stroke-linejoin="miter"/>
<circle cx="141.1" cy="1080.8" r="1.85" stroke="#ec6f78" fill="none" stroke-width="1.3"/>
<circle cx="147.9" cy="1078.7" r="1.85" stroke="#ec6f78" fill="none" stroke-width="1.3"/>
<line x1="91.4" y1="982" x2="144.5" y2="982" stroke="#262626" stroke-width="1.6" />
<text x="118.5" y="981.6" font-size="14.3" text-anchor="middle" font-weight="bold" font-style="normal" fill="#1a1a1a" >*</text>
<text x="79.9" y="1102.9" font-size="11.3" text-anchor="start" font-weight="normal" font-style="normal" fill="#1a1a1a" >WT</text>
<text x="113.5" y="1102.9" font-size="11.3" fill="#1a1a1a">MG-<tspan font-style="italic">Tgfb1</tspan> iKO</text>
<text transform="translate(14,1028.8) rotate(-90)" font-size="10.1" font-weight="bold" text-anchor="middle" fill="#1a1a1a">Latency to Exit</text>
<text transform="translate(25.4,1028.8) rotate(-90)" font-size="10.1" font-weight="bold" text-anchor="middle" fill="#1a1a1a">(% of WT Mean)</text>
<text x="12.7" y="967.1" font-size="16" text-anchor="start" font-weight="normal" font-style="normal" fill="#111" >N</text>
<line x1="273.3" y1="1070" x2="273.3" y2="1081.8" stroke="#a6b9d2" stroke-width="1.3" />
<line x1="265.3" y1="1070" x2="281.3" y2="1070" stroke="#a6b9d2" stroke-width="1.3" />
<line x1="265.3" y1="1081.8" x2="281.3" y2="1081.8" stroke="#a6b9d2" stroke-width="1.3" />
<line x1="326.1" y1="1003.9" x2="326.1" y2="1072.4" stroke="#f2a2a8" stroke-width="1.3" />
<line x1="318.1" y1="1003.9" x2="334.1" y2="1003.9" stroke="#f2a2a8" stroke-width="1.3" />
<line x1="318.1" y1="1072.4" x2="334.1" y2="1072.4" stroke="#f2a2a8" stroke-width="1.3" />
<rect x="257" y="1077.3" width="32.5" height="10.1" fill="none" stroke="#3b64a3" stroke-width="1.9"/>
<rect x="309.6" y="1039.4" width="33" height="48" fill="none" stroke="#ee6f79" stroke-width="1.9"/>
<line x1="237.8" y1="969.8" x2="237.8" y2="1088.1" stroke="#262626" stroke-width="1.7" />
<line x1="233.6" y1="1087.4" x2="361.8" y2="1087.4" stroke="#262626" stroke-width="1.8" />
<line x1="232.8" y1="970.5" x2="237.8" y2="970.5" stroke="#262626" stroke-width="1.5" />
<text transform="translate(231.9,973.81) scale(0.87,1)" font-size="9.2" font-weight="bold" text-anchor="end" fill="#1a1a1a">1000</text>
<line x1="232.8" y1="993.9" x2="237.8" y2="993.9" stroke="#262626" stroke-width="1.5" />
<text transform="translate(231.9,997.21) scale(0.87,1)" font-size="9.2" font-weight="bold" text-anchor="end" fill="#1a1a1a">800</text>
<line x1="232.8" y1="1017.2" x2="237.8" y2="1017.2" stroke="#262626" stroke-width="1.5" />
<text transform="translate(231.9,1020.51) scale(0.87,1)" font-size="9.2" font-weight="bold" text-anchor="end" fill="#1a1a1a">600</text>
<line x1="232.8" y1="1040.6" x2="237.8" y2="1040.6" stroke="#262626" stroke-width="1.5" />
<text transform="translate(231.9,1043.91) scale(0.87,1)" font-size="9.2" font-weight="bold" text-anchor="end" fill="#1a1a1a">400</text>
<line x1="232.8" y1="1064" x2="237.8" y2="1064" stroke="#262626" stroke-width="1.5" />
<text transform="translate(231.9,1067.31) scale(0.87,1)" font-size="9.2" font-weight="bold" text-anchor="end" fill="#1a1a1a">200</text>
<line x1="232.8" y1="1087.4" x2="237.8" y2="1087.4" stroke="#262626" stroke-width="1.5" />
<text transform="translate(231.9,1090.71) scale(0.87,1)" font-size="9.2" font-weight="bold" text-anchor="end" fill="#1a1a1a">0</text>
<line x1="273.3" y1="1087.4" x2="273.3" y2="1091.2" stroke="#262626" stroke-width="1.4" />
<line x1="326.1" y1="1087.4" x2="326.1" y2="1091.2" stroke="#262626" stroke-width="1.4" />
<polygon points="273.3,1063.25 271.05,1067.17 275.55,1067.17" stroke="#3e5f96" fill="none" stroke-width="1.2" stroke-linejoin="miter"/>
<polygon points="266.7,1070.65 264.45,1074.57 268.95,1074.57" stroke="#3e5f96" fill="none" stroke-width="1.2" stroke-linejoin="miter"/>
<polygon points="273.3,1070.65 271.05,1074.57 275.55,1074.57" stroke="#3e5f96" fill="none" stroke-width="1.2" stroke-linejoin="miter"/>
<polygon points="279.8,1070.65 277.55,1074.57 282.05,1074.57" stroke="#3e5f96" fill="none" stroke-width="1.2" stroke-linejoin="miter"/>
<circle cx="266.7" cy="1077" r="1.85" stroke="#3e5f96" fill="none" stroke-width="1.3"/>
<circle cx="266.7" cy="1080.5" r="1.85" stroke="#3e5f96" fill="none" stroke-width="1.3"/>
<polygon points="273.3,1077.65 271.05,1081.57 275.55,1081.57" stroke="#3e5f96" fill="none" stroke-width="1.2" stroke-linejoin="miter"/>
<circle cx="279.8" cy="1080.2" r="1.85" stroke="#3e5f96" fill="none" stroke-width="1.3"/>
<circle cx="326.1" cy="986.8" r="1.85" stroke="#ec6f78" fill="none" stroke-width="1.3"/>
<circle cx="326.1" cy="1007" r="1.85" stroke="#ec6f78" fill="none" stroke-width="1.3"/>
<circle cx="326.1" cy="1043.3" r="1.85" stroke="#ec6f78" fill="none" stroke-width="1.3"/>
<circle cx="326.1" cy="1053" r="1.85" stroke="#ec6f78" fill="none" stroke-width="1.3"/>
<polygon points="326.1,1057.45 323.85,1061.37 328.35,1061.37" stroke="#ec6f78" fill="none" stroke-width="1.2" stroke-linejoin="miter"/>
<polygon points="326.1,1076.35 323.85,1080.27 328.35,1080.27" stroke="#ec6f78" fill="none" stroke-width="1.2" stroke-linejoin="miter"/>
<line x1="273.3" y1="973.1" x2="326.1" y2="973.1" stroke="#262626" stroke-width="1.6" />
<text x="299.8" y="972.7" font-size="14.3" text-anchor="middle" font-weight="bold" font-style="normal" fill="#1a1a1a" >*</text>
<text x="261.3" y="1102.9" font-size="11.3" text-anchor="start" font-weight="normal" font-style="normal" fill="#1a1a1a" >WT</text>
<text x="295.6" y="1102.9" font-size="11.3" fill="#1a1a1a">MG-<tspan font-style="italic">Tgfb1</tspan> iKO</text>
<text transform="translate(195.8,1029) rotate(-90)" font-size="10.1" font-weight="bold" text-anchor="middle" fill="#1a1a1a">Latency to Exit</text>
<text transform="translate(206.8,1029) rotate(-90)" font-size="10.1" font-weight="bold" text-anchor="middle" fill="#1a1a1a">(% of WT Mean)</text>
<text x="187.5" y="968.4" font-size="16" text-anchor="start" font-weight="normal" font-style="normal" fill="#111" >O</text>
<circle cx="540.4" cy="918" r="2.6" stroke="#111" fill="none" stroke-width="1.7"/>
<polygon points="540.4,926.8 537.1,932.6 543.7,932.6" fill="#111"/>
<circle cx="550.2" cy="917" r="2" stroke="#111" fill="none" stroke-width="1.5"/>
<line x1="550.2" y1="919" x2="550.2" y2="922.9" stroke="#111" stroke-width="1.4" />
<line x1="548.2" y1="921" x2="552.2" y2="921" stroke="#111" stroke-width="1.3" />
<circle cx="549.4" cy="931.2" r="2.1" stroke="#111" fill="none" stroke-width="1.5"/>
<line x1="550.9" y1="929.7" x2="553.2" y2="927.4" stroke="#111" stroke-width="1.3" />
<polygon points="554,926.6 551.1,926.8 553.8,929.5" fill="#111"/>
<circle cx="567.4" cy="915.3" r="1.9" stroke="#3b64a3" fill="none" stroke-width="1.1"/>
<circle cx="567.4" cy="932.3" r="1.9" stroke="#ee6f79" fill="none" stroke-width="1.1"/>
<text x="580.6" y="919.1" font-size="9.9" text-anchor="start" font-weight="normal" font-style="normal" fill="#222" >Control</text>
<text x="580.6" y="935.5" font-size="9.9" font-style="italic" fill="#222">Cx3cr1<tspan font-size="7.1" dy="-4.3">CreER</tspan><tspan dy="4.3">Tgfb1</tspan><tspan font-size="6" dy="-4.3">fl/fl</tspan></text>
<line x1="460" y1="993.37" x2="460" y2="1013.81" stroke="#f2a2a8" stroke-width="1.2" />
<line x1="457.4" y1="993.37" x2="462.6" y2="993.37" stroke="#f2a2a8" stroke-width="1.2" />
<line x1="457.4" y1="1013.81" x2="462.6" y2="1013.81" stroke="#f2a2a8" stroke-width="1.2" />
<line x1="496.6" y1="983.53" x2="496.6" y2="996.85" stroke="#f2a2a8" stroke-width="1.2" />
<line x1="494" y1="983.53" x2="499.2" y2="983.53" stroke="#f2a2a8" stroke-width="1.2" />
<line x1="494" y1="996.85" x2="499.2" y2="996.85" stroke="#f2a2a8" stroke-width="1.2" />
<line x1="533.5" y1="976.93" x2="533.5" y2="988.62" stroke="#f2a2a8" stroke-width="1.2" />
<line x1="530.9" y1="976.93" x2="536.1" y2="976.93" stroke="#f2a2a8" stroke-width="1.2" />
<line x1="530.9" y1="988.62" x2="536.1" y2="988.62" stroke="#f2a2a8" stroke-width="1.2" />
<line x1="460" y1="999.28" x2="460" y2="1018.09" stroke="#7d98c2" stroke-width="1.2" />
<line x1="457.4" y1="999.28" x2="462.6" y2="999.28" stroke="#7d98c2" stroke-width="1.2" />
<line x1="457.4" y1="1018.09" x2="462.6" y2="1018.09" stroke="#7d98c2" stroke-width="1.2" />
<line x1="496.6" y1="977.22" x2="496.6" y2="994.01" stroke="#7d98c2" stroke-width="1.2" />
<line x1="494" y1="977.22" x2="499.2" y2="977.22" stroke="#7d98c2" stroke-width="1.2" />
<line x1="494" y1="994.01" x2="499.2" y2="994.01" stroke="#7d98c2" stroke-width="1.2" />
<line x1="533.5" y1="965.29" x2="533.5" y2="976" stroke="#7d98c2" stroke-width="1.2" />
<line x1="530.9" y1="965.29" x2="536.1" y2="965.29" stroke="#7d98c2" stroke-width="1.2" />
<line x1="530.9" y1="976" x2="536.1" y2="976" stroke="#7d98c2" stroke-width="1.2" />
<polyline points="460,1003.39 496.6,989.72 533.5,981.68" fill="none" stroke="#ee6f79" stroke-width="1.35"/>
<rect x="457.8" y="1001.19" width="4.4" height="4.4" stroke="#ee6f79" fill="none" stroke-width="1.3"/>
<rect x="494.4" y="987.52" width="4.4" height="4.4" stroke="#ee6f79" fill="none" stroke-width="1.3"/>
<rect x="531.3" y="979.48" width="4.4" height="4.4" stroke="#ee6f79" fill="none" stroke-width="1.3"/>
<polyline points="460,1008.71 496.6,985.38 533.5,972.01" fill="none" stroke="#2f4d8c" stroke-width="1.35"/>
<rect x="457.8" y="1006.51" width="4.4" height="4.4" stroke="#2f4d8c" fill="none" stroke-width="1.3"/>
<rect x="494.4" y="983.18" width="4.4" height="4.4" stroke="#2f4d8c" fill="none" stroke-width="1.3"/>
<rect x="531.3" y="969.81" width="4.4" height="4.4" stroke="#2f4d8c" fill="none" stroke-width="1.3"/>
<line x1="435.2" y1="964.3" x2="435.2" y2="1081.5" stroke="#262626" stroke-width="1.7" />
<line x1="431" y1="1080.8" x2="554.7" y2="1080.8" stroke="#262626" stroke-width="1.8" />
<line x1="430.2" y1="965" x2="435.2" y2="965" stroke="#262626" stroke-width="1.5" />
<text transform="translate(429.3,968.31) scale(0.87,1)" font-size="9.2" font-weight="bold" text-anchor="end" fill="#1a1a1a">200</text>
<line x1="430.2" y1="993.9" x2="435.2" y2="993.9" stroke="#262626" stroke-width="1.5" />
<text transform="translate(429.3,997.21) scale(0.87,1)" font-size="9.2" font-weight="bold" text-anchor="end" fill="#1a1a1a">150</text>
<line x1="430.2" y1="1023" x2="435.2" y2="1023" stroke="#262626" stroke-width="1.5" />
<text transform="translate(429.3,1026.31) scale(0.87,1)" font-size="9.2" font-weight="bold" text-anchor="end" fill="#1a1a1a">100</text>
<line x1="430.2" y1="1052" x2="435.2" y2="1052" stroke="#262626" stroke-width="1.5" />
<text transform="translate(429.3,1055.31) scale(0.87,1)" font-size="9.2" font-weight="bold" text-anchor="end" fill="#1a1a1a">50</text>
<line x1="430.2" y1="1080.8" x2="435.2" y2="1080.8" stroke="#262626" stroke-width="1.5" />
<text transform="translate(429.3,1084.11) scale(0.87,1)" font-size="9.2" font-weight="bold" text-anchor="end" fill="#1a1a1a">0</text>
<line x1="460" y1="1080.8" x2="460" y2="1084.6" stroke="#262626" stroke-width="1.4" />
<text transform="translate(462.5,1090.3) rotate(-45)" font-size="8.4" font-weight="bold" text-anchor="end" fill="#1a1a1a">Trial 1</text>
<line x1="496.6" y1="1080.8" x2="496.6" y2="1084.6" stroke="#262626" stroke-width="1.4" />
<text transform="translate(499.1,1090.3) rotate(-45)" font-size="8.4" font-weight="bold" text-anchor="end" fill="#1a1a1a">Trial 2</text>
<line x1="533.5" y1="1080.8" x2="533.5" y2="1084.6" stroke="#262626" stroke-width="1.4" />
<text transform="translate(536,1090.3) rotate(-45)" font-size="8.4" font-weight="bold" text-anchor="end" fill="#1a1a1a">Trial 3</text>
<path d="M540.2,970.9 H545.2 V982.5 H540.2" fill="none" stroke="#111" stroke-width="1.7"/>
<text x="548.3" y="980" font-size="10.3" text-anchor="start" font-weight="normal" font-style="normal" fill="#1a1a1a" >ns</text>
<text transform="translate(409,1022.2) scale(0.87,1) rotate(-90)" font-size="9.7" font-weight="bold" text-anchor="middle" fill="#1a1a1a">Latency to Fall (s)</text>
<text x="388.8" y="969.7" font-size="16" text-anchor="start" font-weight="normal" font-style="normal" fill="#111" >P</text>
<text x="586.6" y="993.9" font-size="16" text-anchor="start" font-weight="normal" font-style="normal" fill="#111" >Rotarod</text>
<g transform="translate(589.8,1011.1) scale(1.14,1.13)">
<path d="M0.8,36.8 L3.6,33.0 L38.5,33.0 L41.2,36.8 z" fill="#f6f6f0" stroke="#c8c8be" stroke-width="0.4"/>
<rect x="4.8" y="29.6" width="31.2" height="5.6" fill="#a7ab9e"/>
<rect x="4.8" y="33.2" width="31.2" height="2.0" fill="#7f8378"/>
<rect x="5.5" y="11.0" width="32.0" height="5.4" fill="#4d4d4d"/>
<path d="M41.0,11.5 h1.2 a2.5,2.5 0 0 1 0,4.9 h-1.2 z" fill="#3a3a3a"/>
<rect x="1.3" y="2.3" width="2.4" height="33.5" fill="#c4c4c4" stroke="#8e8e8e" stroke-width="0.4"/>
<rect x="38.5" y="2.3" width="2.4" height="33.5" fill="#c4c4c4" stroke="#8e8e8e" stroke-width="0.4"/>
<path d="M5,0 C4,8 4,26 5,35.5 L6,35.5 C7,26 7,8 6,0 z" fill="#c6c6c6" stroke="#8a8a8a" stroke-width="0.4"/>
<path d="M34.2,0 C33.2,8 33.2,26 34.2,35.5 L35.2,35.5 C36.2,26 36.2,8 35.2,0 z" fill="#c6c6c6" stroke="#8a8a8a" stroke-width="0.4"/>
<rect x="10.9" y="0" width="1.4" height="35.5" fill="#c8c8c8" stroke="#909090" stroke-width="0.35"/>
<rect x="16.2" y="0" width="1.4" height="35.5" fill="#c8c8c8" stroke="#909090" stroke-width="0.35"/>
<rect x="22.5" y="0" width="1.4" height="35.5" fill="#c8c8c8" stroke="#909090" stroke-width="0.35"/>
<rect x="28.2" y="0" width="1.4" height="35.5" fill="#c8c8c8" stroke="#909090" stroke-width="0.35"/>
<rect x="0.6" y="36.6" width="40.6" height="9.8" rx="0.8" fill="#ececE6" stroke="#c0c0b6" stroke-width="0.6"/>
<rect x="12.4" y="39.1" width="16.6" height="3.8" fill="#5b6b99"/>
<path d="M17,42.9 L21.5,39.1 L24.5,39.1 L20,42.9 z" fill="#8c9ac0" opacity="0.7"/>
<rect x="7.8" y="39.5" width="3.0" height="0.9" fill="#4c5a88"/>
<rect x="30.6" y="39.5" width="3.0" height="0.9" fill="#4c5a88"/>
<rect x="7.8" y="42.2" width="3.0" height="0.9" fill="#4c5a88"/>
<rect x="30.6" y="42.2" width="3.0" height="0.9" fill="#4c5a88"/>
</g>
</svg></body></html>
